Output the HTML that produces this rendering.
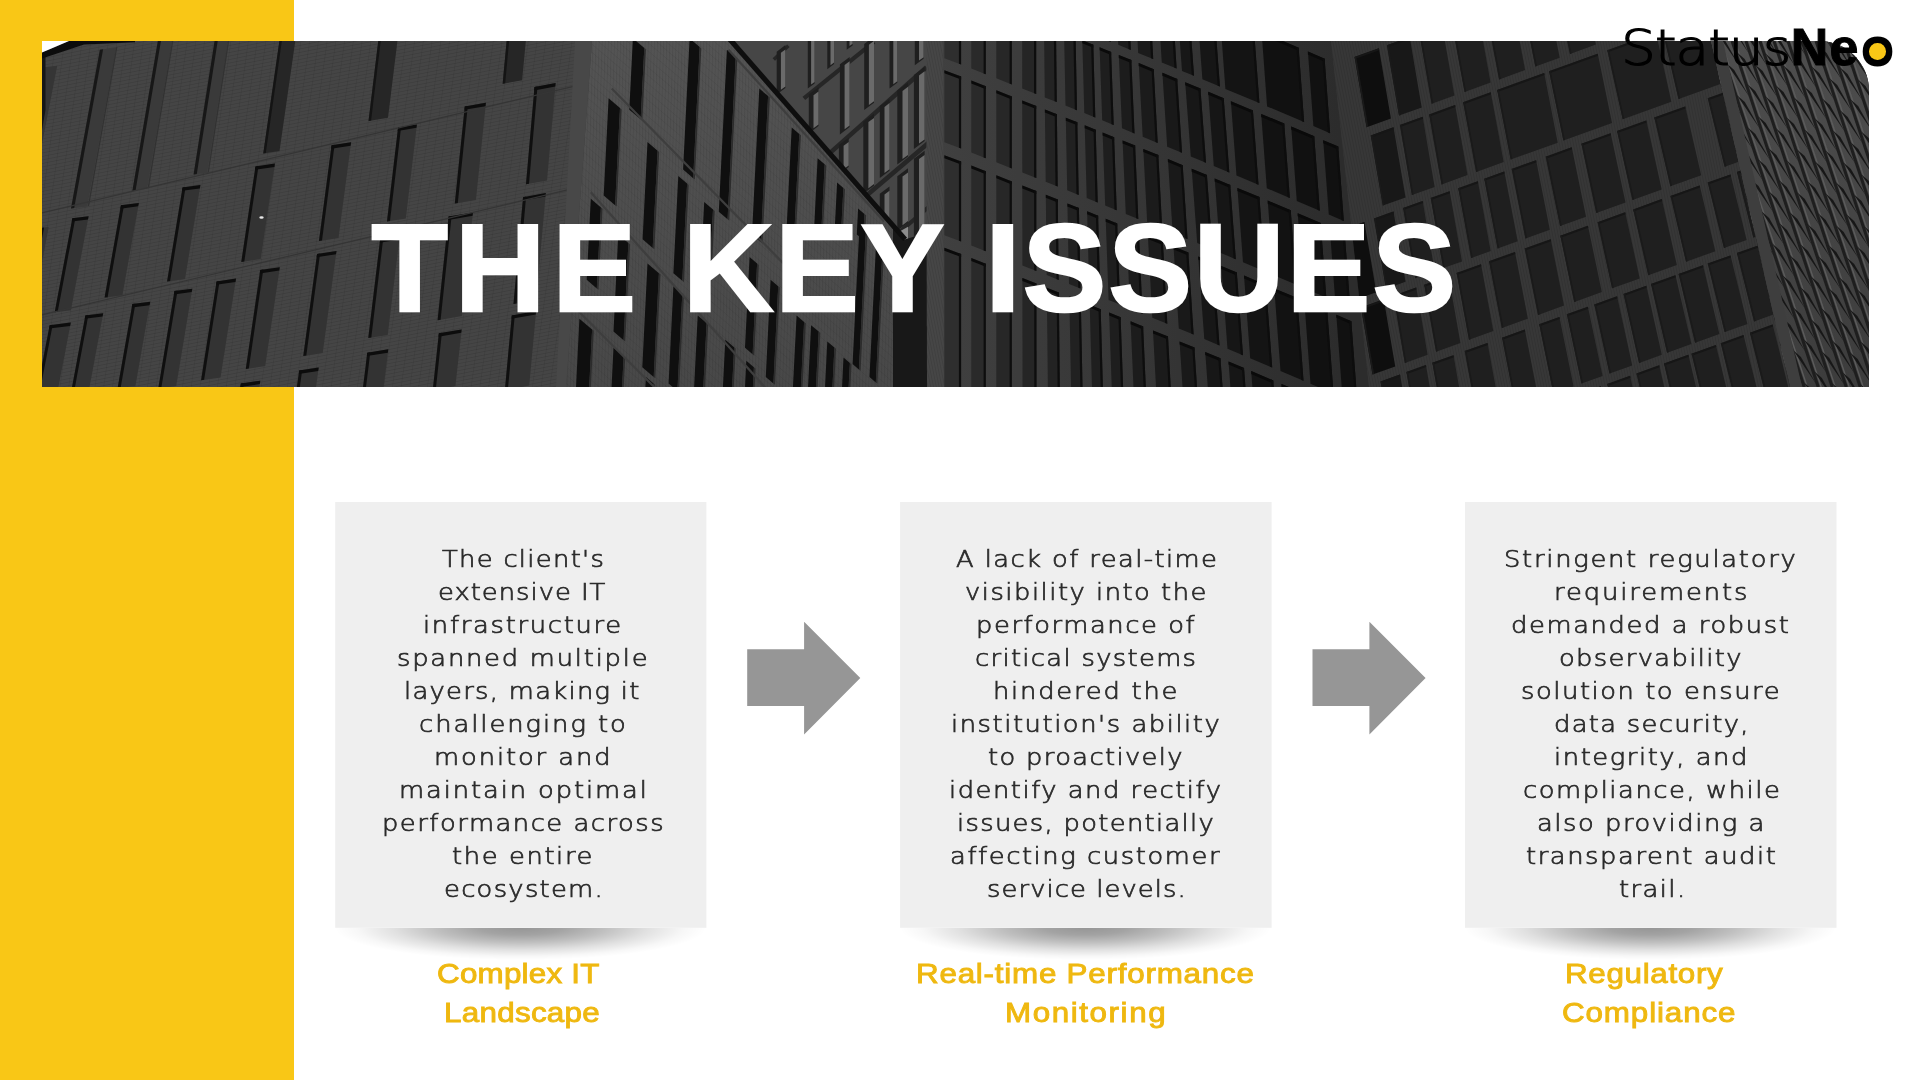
<!DOCTYPE html>
<html lang="en">
<head>
<meta charset="utf-8">
<title>The Key Issues</title>
<style>
html, body { margin: 0; padding: 0; }
body {
  width: 1920px; height: 1080px; overflow: hidden; position: relative;
  background: #ffffff;
  font-family: "Liberation Sans", sans-serif;
}
#sidebar { position: absolute; left: 0; top: 0; width: 294px; height: 1080px; background: #f9c716; }
#banner { position: absolute; left: 42px; top: 41px; width: 1827px; height: 346px; background: #3a3a3a; overflow: hidden; }
#banner svg { position: absolute; left: 0; top: 0; display: block; }
.tw {
  position: absolute; white-space: nowrap; color: #fff; font-weight: bold;
  font-size: 125px; line-height: 125px; transform-origin: 0 0; transform: scaleX(1.0);
  -webkit-text-stroke: 2.5px #fff;
}
.shadow { position: absolute; top: 928px; width: 371px; height: 32px; overflow: hidden; background: radial-gradient(ellipse 50% 100% at 50% 0%, rgba(0,0,0,0.41) 0%, rgba(0,0,0,0.36) 22%, rgba(0,0,0,0.25) 45%, rgba(0,0,0,0.12) 68%, rgba(0,0,0,0.03) 88%, rgba(0,0,0,0) 100%); }
.bl {
  position: absolute; white-space: nowrap; font-family: "DejaVu Sans", "Liberation Sans", sans-serif; font-weight: 200; font-size: 23px; line-height: 33px; color: #2b2b2b; -webkit-text-stroke: 0.7px #2b2b2b;
  transform-origin: 0 0; transform: scaleX(1.12);
}
.lb {
  position: absolute; white-space: nowrap; font-size: 28px; line-height: 39px; font-weight: normal; color: #efb810; -webkit-text-stroke: 0.9px #efb810;
  transform-origin: 0 0; transform: scaleX(1.12);
}

.lg { display: inline-block; width: 0; position: relative; vertical-align: baseline; overflow: visible; white-space: nowrap; line-height: 60px; color: #000; transform-origin: 0 0; }
.lg1 { font-family: "DejaVu Sans", "Liberation Sans", sans-serif; font-weight: 200; font-size: 49px; -webkit-text-stroke: 1.2px #000; transform: scaleX(1.12); }
.lg2 { font-weight: bold; font-size: 52px; -webkit-text-stroke: 1px #000; }
.lg3 { font-weight: bold; font-size: 50px; -webkit-text-stroke: 3px #000; }
.dot { position: absolute; left: 1869.3px; top: 43.3px; width: 16.6px; height: 16.6px; border-radius: 50%; background: #f9c716; }
#banner { border-top-right-radius: 50px; }

#bodytext, #labels, #title { position: absolute; left: 0; top: 0; width: 1920px; height: 1080px; will-change: transform; }
#logo { position: absolute; left: 0; top: 17px; width: 1920px; height: 60px; line-height: 60px; white-space: nowrap; font-size: 52px; will-change: transform; }

</style>
</head>
<body>
<div id="sidebar"></div>
<div id="banner">
<svg width="1827" height="346" viewBox="42 41 1827 346">
<defs><pattern id="brickA" width="9" height="3.6" patternUnits="userSpaceOnUse" patternTransform="matrix(1 -0.2 -0.14 1 0 0)"><rect width="9" height="3.6" fill="none"/><rect y="0" width="9" height="0.9" fill="#000" opacity="0.10"/><rect x="0" y="0" width="0.9" height="3.6" fill="#000" opacity="0.07"/></pattern><pattern id="brickB" width="3" height="8" patternUnits="userSpaceOnUse" patternTransform="matrix(1 0.85 -0.03 1 0 0)"><rect x="0" y="0" width="0.9" height="8" fill="#000" opacity="0.08"/><rect x="0" y="0" width="3" height="0.9" fill="#000" opacity="0.06"/></pattern><pattern id="brickD" width="2.6" height="7" patternUnits="userSpaceOnUse" patternTransform="matrix(1 -0.36 0.2 1 0 0)"><rect x="0" y="0" width="0.8" height="7" fill="#000" opacity="0.10"/></pattern></defs>
<rect x="42" y="41" width="1827" height="346" fill="#333333"/>
<polygon points="42.0,41.0 592.0,41.0 566.0,387.0 42.0,387.0" fill="#454545"/><polygon points="42.0,41.0 592.0,41.0 566.0,387.0 42.0,387.0" fill="url(#brickA)"/><polygon points="72.4,218.2 88.6,216.2 70.9,310.2 54.7,312.2" fill="#333333"/><polygon points="72.4,218.2 75.4,217.9 57.7,311.8 54.7,312.2" fill="#0f0f0f"/><polygon points="72.4,218.2 88.6,216.2 88.0,219.6 71.8,221.6" fill="#0c0c0c"/><polygon points="121.0,205.3 138.8,202.9 122.4,295.3 104.6,297.6" fill="#333333"/><polygon points="121.0,205.3 124.0,204.9 107.6,297.2 104.6,297.6" fill="#0f0f0f"/><polygon points="121.0,205.3 138.8,202.9 138.2,206.3 120.4,208.7" fill="#0c0c0c"/><polygon points="182.6,187.4 200.4,185.0 185.0,279.0 167.1,281.4" fill="#333333"/><polygon points="182.6,187.4 185.6,187.0 170.1,281.0 167.1,281.4" fill="#0f0f0f"/><polygon points="182.6,187.4 200.4,185.0 199.8,188.4 182.0,190.8" fill="#0c0c0c"/><polygon points="255.5,166.4 274.9,163.5 260.7,259.1 241.3,262.0" fill="#333333"/><polygon points="255.5,166.4 258.5,165.9 244.3,261.5 241.3,262.0" fill="#0f0f0f"/><polygon points="255.5,166.4 274.9,163.5 274.4,166.9 255.0,169.8" fill="#0c0c0c"/><polygon points="331.6,145.3 351.1,142.3 338.5,237.9 319.0,240.9" fill="#333333"/><polygon points="331.6,145.3 334.6,144.8 322.0,240.4 319.0,240.9" fill="#0f0f0f"/><polygon points="331.6,145.3 351.1,142.3 350.6,145.7 331.2,148.7" fill="#0c0c0c"/><polygon points="398.1,127.5 416.9,124.4 405.8,218.4 387.0,221.5" fill="#333333"/><polygon points="398.1,127.5 401.1,127.0 390.0,221.0 387.0,221.5" fill="#0f0f0f"/><polygon points="398.1,127.5 416.9,124.4 416.5,127.8 397.7,130.9" fill="#0c0c0c"/><polygon points="464.8,106.4 485.9,102.8 475.9,200.0 454.8,203.6" fill="#333333"/><polygon points="464.8,106.4 467.8,105.9 457.8,203.1 454.8,203.6" fill="#0f0f0f"/><polygon points="464.8,106.4 485.9,102.8 485.5,106.2 464.5,109.8" fill="#0c0c0c"/><polygon points="534.5,87.0 555.6,83.1 547.0,180.4 526.0,184.2" fill="#333333"/><polygon points="534.5,87.0 537.5,86.4 529.0,183.7 526.0,184.2" fill="#0f0f0f"/><polygon points="534.5,87.0 555.6,83.1 555.3,86.5 534.2,90.4" fill="#0c0c0c"/><polygon points="49.7,325.2 70.8,322.6 58.3,387.4 37.2,390.0" fill="#333333"/><polygon points="49.7,325.2 52.7,324.8 40.2,389.6 37.2,390.0" fill="#0f0f0f"/><polygon points="49.7,325.2 70.8,322.6 70.1,326.0 49.1,328.6" fill="#0c0c0c"/><polygon points="85.4,315.4 103.2,313.2 89.4,387.7 71.5,390.0" fill="#333333"/><polygon points="85.4,315.4 88.4,315.1 74.5,389.6 71.5,390.0" fill="#0f0f0f"/><polygon points="85.4,315.4 103.2,313.2 102.6,316.6 84.7,318.8" fill="#0c0c0c"/><polygon points="132.4,304.1 150.2,301.8 135.4,386.0 117.6,388.3" fill="#333333"/><polygon points="132.4,304.1 135.4,303.7 120.6,388.0 117.6,388.3" fill="#0f0f0f"/><polygon points="132.4,304.1 150.2,301.8 149.6,305.2 131.8,307.5" fill="#0c0c0c"/><polygon points="174.5,291.1 192.3,288.7 176.2,385.9 158.3,388.3" fill="#333333"/><polygon points="174.5,291.1 177.5,290.7 161.3,387.9 158.3,388.3" fill="#0f0f0f"/><polygon points="174.5,291.1 192.3,288.7 191.7,292.1 173.9,294.5" fill="#0c0c0c"/><polygon points="216.6,281.4 236.0,278.6 220.5,377.5 201.1,380.2" fill="#333333"/><polygon points="216.6,281.4 219.6,281.0 204.1,379.8 201.1,380.2" fill="#0f0f0f"/><polygon points="216.6,281.4 236.0,278.6 235.5,282.0 216.1,284.8" fill="#0c0c0c"/><polygon points="260.3,270.1 279.8,267.2 265.2,366.0 245.8,368.9" fill="#333333"/><polygon points="260.3,270.1 263.3,269.6 248.8,368.5 245.8,368.9" fill="#0f0f0f"/><polygon points="260.3,270.1 279.8,267.2 279.3,270.6 259.8,273.5" fill="#0c0c0c"/><polygon points="317.1,253.9 336.5,250.9 322.7,352.9 303.3,355.9" fill="#333333"/><polygon points="317.1,253.9 320.1,253.4 306.3,355.5 303.3,355.9" fill="#0f0f0f"/><polygon points="317.1,253.9 336.5,250.9 336.0,254.3 316.6,257.3" fill="#0c0c0c"/><polygon points="380.2,239.3 399.7,236.1 387.7,335.0 368.3,338.1" fill="#333333"/><polygon points="380.2,239.3 383.2,238.8 371.3,337.6 368.3,338.1" fill="#0f0f0f"/><polygon points="380.2,239.3 399.7,236.1 399.3,239.5 379.8,242.7" fill="#0c0c0c"/><polygon points="448.6,216.6 472.9,212.4 461.9,316.1 437.6,320.3" fill="#333333"/><polygon points="448.6,216.6 451.6,216.1 440.6,319.8 437.6,320.3" fill="#0f0f0f"/><polygon points="448.6,216.6 472.9,212.4 472.6,215.8 448.3,220.0" fill="#0c0c0c"/><polygon points="523.1,197.2 545.8,193.1 536.2,300.0 513.5,304.1" fill="#333333"/><polygon points="523.1,197.2 526.1,196.6 516.5,303.6 513.5,304.1" fill="#0f0f0f"/><polygon points="523.1,197.2 545.8,193.1 545.5,196.5 522.8,200.6" fill="#0c0c0c"/><polygon points="240.9,383.5 260.3,380.7 258.9,390.4 239.4,393.2" fill="#333333"/><polygon points="240.9,383.5 243.9,383.1 242.4,392.8 239.4,393.2" fill="#0f0f0f"/><polygon points="240.9,383.5 260.3,380.7 259.8,384.1 240.4,386.9" fill="#0c0c0c"/><polygon points="299.2,370.5 318.7,367.6 316.0,387.0 296.5,390.0" fill="#333333"/><polygon points="299.2,370.5 302.2,370.1 299.5,389.5 296.5,390.0" fill="#0f0f0f"/><polygon points="299.2,370.5 318.7,367.6 318.2,371.0 298.8,373.9" fill="#0c0c0c"/><polygon points="367.3,352.7 388.3,349.3 383.5,388.2 362.5,391.6" fill="#333333"/><polygon points="367.3,352.7 370.3,352.2 365.5,391.1 362.5,391.6" fill="#0f0f0f"/><polygon points="367.3,352.7 388.3,349.3 387.9,352.7 366.9,356.1" fill="#0c0c0c"/><polygon points="438.9,333.3 461.6,329.4 455.4,386.1 432.8,390.0" fill="#333333"/><polygon points="438.9,333.3 441.9,332.7 435.8,389.5 432.8,390.0" fill="#0f0f0f"/><polygon points="438.9,333.3 461.6,329.4 461.2,332.8 438.5,336.7" fill="#0c0c0c"/><polygon points="511.8,315.4 536.1,311.1 529.2,385.6 504.9,390.0" fill="#333333"/><polygon points="511.8,315.4 514.8,314.9 507.9,389.4 504.9,390.0" fill="#0f0f0f"/><polygon points="511.8,315.4 536.1,311.1 535.8,314.5 511.5,318.8" fill="#0c0c0c"/><polygon points="42.6,67.5 57.2,65.8 30.7,201.9 16.1,203.6" fill="#353535"/><polygon points="42.6,67.5 45.1,67.2 18.6,203.3 16.1,203.6" fill="#0f0f0f"/><polygon points="41.6,227.9 48.7,227.1 40.5,269.2 33.4,270.1" fill="#353535"/><polygon points="41.6,227.9 44.1,227.6 35.9,269.8 33.4,270.1" fill="#0f0f0f"/><polygon points="99.9,49.7 116.2,47.7 87.2,206.4 71.0,208.5" fill="#3a3a3a"/><polygon points="99.9,49.7 103.1,49.3 74.2,208.1 71.0,208.5" fill="#171717"/><polygon points="116.2,47.3 117.4,47.1 89.1,205.9 87.8,206.1" fill="#323232"/><polygon points="158.3,38.4 172.9,36.4 147.0,188.7 132.4,190.7" fill="#3a3a3a"/><polygon points="158.3,38.4 161.5,37.9 135.6,190.2 132.4,190.7" fill="#171717"/><polygon points="172.9,36.2 174.2,36.0 148.8,188.3 147.5,188.5" fill="#323232"/><polygon points="215.0,38.4 228.6,36.4 207.2,172.5 193.6,174.5" fill="#3a3a3a"/><polygon points="215.0,38.4 218.2,37.9 196.8,174.0 193.6,174.5" fill="#171717"/><polygon points="228.6,36.3 229.9,36.2 208.9,172.3 207.6,172.4" fill="#323232"/><polygon points="279.8,38.4 296.0,35.9 279.5,151.0 263.3,153.4" fill="#262626"/><polygon points="279.8,38.4 282.3,38.0 265.8,153.0 263.3,153.4" fill="#141414"/><polygon points="378.6,38.4 398.1,35.2 388.0,117.8 368.6,121.0" fill="#262626"/><polygon points="378.6,38.4 381.1,38.0 371.1,120.6 368.6,121.0" fill="#141414"/><polygon points="506.9,38.4 526.4,34.9 522.1,80.3 502.7,83.7" fill="#262626"/><polygon points="506.9,38.4 509.4,37.9 505.2,83.3 502.7,83.7" fill="#141414"/><line x1="40.0" y1="213.4" x2="580.0" y2="84.8" stroke="#353535" stroke-width="1.2"/><line x1="40.0" y1="315.4" x2="580.0" y2="186.9" stroke="#353535" stroke-width="1.2"/><ellipse cx="261.5" cy="217.5" rx="2.2" ry="1.3" fill="#e8e8e8"/><polygon points="42.0,50.0 45.5,50.0 45.5,110.0 42.0,130.0" fill="#161616"/><polygon points="42.0,52.5 69.0,41.0 135.0,41.0 135.0,42.2 84.0,44.5 42.0,58.5" fill="#0c0c0c"/><polygon points="42.0,41.0 69.0,41.0 42.0,52.5" fill="#ffffff"/>
<linearGradient id="gB" x1="0" y1="0" x2="0" y2="1"><stop offset="0" stop-color="#545454"/><stop offset="1" stop-color="#484848"/></linearGradient><polygon points="592.0,41.0 733.0,41.0 905.0,243.0 905.0,387.0 566.0,387.0" fill="url(#gB)"/><polygon points="592.0,41.0 733.0,41.0 905.0,243.0 905.0,387.0 566.0,387.0" fill="url(#brickB)"/><polygon points="575.0,41.0 592.0,41.0 566.0,387.0 556.0,387.0" fill="#484848"/><polygon points="632.9,38.4 644.3,48.0 640.7,119.3 629.3,109.7" fill="#0f0f0f"/><polygon points="644.3,48.0 645.9,49.4 642.3,120.7 640.7,119.3" fill="#2c2c2c"/><polygon points="689.6,38.4 699.7,47.0 693.2,178.2 683.1,169.6" fill="#0f0f0f"/><polygon points="699.7,47.0 701.3,48.4 694.8,179.6 693.2,178.2" fill="#2c2c2c"/><polygon points="726.9,49.7 735.7,57.2 727.6,219.3 718.8,211.7" fill="#0f0f0f"/><polygon points="735.7,57.2 737.3,58.6 729.2,220.6 727.6,219.3" fill="#2c2c2c"/><polygon points="759.3,88.6 768.1,96.1 760.8,241.9 752.0,234.4" fill="#0f0f0f"/><polygon points="768.1,96.1 769.8,97.5 762.5,243.3 760.8,241.9" fill="#2c2c2c"/><polygon points="791.7,127.5 799.3,133.9 794.4,231.2 786.8,224.7" fill="#0f0f0f"/><polygon points="799.3,133.9 800.9,135.3 796.0,232.5 794.4,231.2" fill="#2c2c2c"/><polygon points="817.6,158.3 824.7,164.3 821.1,235.6 814.1,229.6" fill="#0f0f0f"/><polygon points="824.7,164.3 826.3,165.7 822.7,237.0 821.1,235.6" fill="#2c2c2c"/><polygon points="837.1,182.6 843.4,188.0 840.9,236.6 834.6,231.2" fill="#0f0f0f"/><polygon points="843.4,188.0 845.0,189.3 842.6,237.9 840.9,236.6" fill="#2c2c2c"/><polygon points="858.1,208.5 864.4,213.9 863.1,239.8 856.8,234.4" fill="#0f0f0f"/><polygon points="864.4,213.9 866.1,215.3 864.8,241.2 863.1,239.8" fill="#2c2c2c"/><polygon points="608.6,98.3 620.0,108.0 615.1,205.2 603.7,195.5" fill="#0f0f0f"/><polygon points="620.0,108.0 621.6,109.4 616.7,206.6 615.1,205.2" fill="#2c2c2c"/><polygon points="647.5,142.1 657.6,150.7 652.7,247.9 642.6,239.3" fill="#0f0f0f"/><polygon points="657.6,150.7 659.2,152.0 654.4,249.3 652.7,247.9" fill="#2c2c2c"/><polygon points="678.3,176.1 687.1,183.6 682.3,280.8 673.4,273.3" fill="#0f0f0f"/><polygon points="687.1,183.6 688.7,185.0 683.9,282.2 682.3,280.8" fill="#2c2c2c"/><polygon points="704.2,202.0 713.0,209.5 708.8,293.8 700.0,286.3" fill="#0f0f0f"/><polygon points="713.0,209.5 714.7,210.9 710.5,295.2 708.8,293.8" fill="#2c2c2c"/><polygon points="590.8,198.8 600.9,207.4 596.8,288.4 586.7,279.8" fill="#0f0f0f"/><polygon points="600.9,207.4 602.5,208.8 598.5,289.8 596.8,288.4" fill="#2c2c2c"/><polygon points="618.3,234.4 628.4,243.0 623.6,340.2 613.5,331.6" fill="#0f0f0f"/><polygon points="628.4,243.0 630.1,244.4 625.2,341.6 623.6,340.2" fill="#2c2c2c"/><polygon points="647.5,263.6 658.9,273.3 653.7,377.0 642.3,367.3" fill="#0f0f0f"/><polygon points="658.9,273.3 660.5,274.6 655.3,378.3 653.7,377.0" fill="#2c2c2c"/><polygon points="673.4,286.3 682.3,293.8 677.4,391.0 668.6,383.5" fill="#0f0f0f"/><polygon points="682.3,293.8 683.9,295.2 679.0,392.4 677.4,391.0" fill="#2c2c2c"/><polygon points="697.7,315.4 706.6,323.0 702.8,397.5 694.0,390.0" fill="#0f0f0f"/><polygon points="706.6,323.0 708.2,324.3 704.5,398.9 702.8,397.5" fill="#2c2c2c"/><polygon points="725.3,339.7 734.1,347.3 731.6,397.5 722.8,390.0" fill="#0f0f0f"/><polygon points="734.1,347.3 735.7,348.6 733.2,398.9 731.6,397.5" fill="#2c2c2c"/><polygon points="746.3,360.8 753.9,367.2 752.4,396.4 744.9,390.0" fill="#0f0f0f"/><polygon points="753.9,367.2 755.5,368.6 754.1,397.8 752.4,396.4" fill="#2c2c2c"/><polygon points="579.4,318.7 592.1,329.4 588.5,400.7 575.9,390.0" fill="#0f0f0f"/><polygon points="592.1,329.4 593.7,330.8 590.1,402.1 588.5,400.7" fill="#2c2c2c"/><polygon points="613.5,347.8 623.6,356.4 621.5,398.6 611.4,390.0" fill="#0f0f0f"/><polygon points="623.6,356.4 625.2,357.8 623.1,399.9 621.5,398.6" fill="#2c2c2c"/><polygon points="645.9,377.0 653.5,383.5 652.8,396.4 645.2,390.0" fill="#0f0f0f"/><polygon points="653.5,383.5 655.1,384.8 654.4,397.8 652.8,396.4" fill="#2c2c2c"/><polygon points="749.6,257.1 757.1,263.6 752.6,354.3 745.0,347.8" fill="#0f0f0f"/><polygon points="757.1,263.6 758.8,264.9 754.2,355.7 752.6,354.3" fill="#2c2c2c"/><polygon points="770.6,279.8 778.2,286.2 773.4,383.5 765.8,377.0" fill="#0f0f0f"/><polygon points="778.2,286.2 779.8,287.6 775.0,384.8 773.4,383.5" fill="#2c2c2c"/><polygon points="796.6,315.4 804.1,321.9 800.4,396.4 792.8,390.0" fill="#0f0f0f"/><polygon points="804.1,321.9 805.8,323.3 802.0,397.8 800.4,396.4" fill="#2c2c2c"/><polygon points="811.1,325.2 818.7,331.6 815.5,396.4 807.9,390.0" fill="#0f0f0f"/><polygon points="818.7,331.6 820.3,333.0 817.1,397.8 815.5,396.4" fill="#2c2c2c"/><polygon points="827.3,341.4 834.4,347.4 832.0,396.0 824.9,390.0" fill="#0f0f0f"/><polygon points="834.4,347.4 836.0,348.8 833.6,397.4 832.0,396.0" fill="#2c2c2c"/><polygon points="843.5,357.6 849.9,362.9 848.2,395.3 841.9,390.0" fill="#0f0f0f"/><polygon points="849.9,362.9 851.5,364.3 849.9,396.7 848.2,395.3" fill="#2c2c2c"/><polygon points="859.7,221.5 866.1,226.8 858.9,369.4 852.6,364.0" fill="#0f0f0f"/><polygon points="866.1,226.8 867.7,228.2 860.6,370.8 858.9,369.4" fill="#2c2c2c"/><polygon points="875.9,247.4 882.3,252.8 875.8,382.4 869.5,377.0" fill="#0f0f0f"/><polygon points="882.3,252.8 883.9,254.1 877.4,383.8 875.8,382.4" fill="#2c2c2c"/><line x1="611.8" y1="88.6" x2="786.8" y2="266.8" stroke="#3e3e3e" stroke-width="2.2"/><line x1="590.8" y1="192.3" x2="767.4" y2="390.0" stroke="#3e3e3e" stroke-width="2.2"/><line x1="573.0" y1="305.7" x2="657.2" y2="390.0" stroke="#3e3e3e" stroke-width="2.2"/><line x1="728.5" y1="49.7" x2="884.0" y2="221.5" stroke="#3e3e3e" stroke-width="2.2"/>
<clipPath id="clipH"><polygon points="733,41 932,41 932,387 905,387 905,243"/></clipPath><g clip-path="url(#clipH)"><polygon points="733.0,41.0 932.0,41.0 932.0,387.0 905.0,387.0 905.0,243.0" fill="#464646"/><line x1="803.9" y1="98.4" x2="874.0" y2="41.9" stroke="#262626" stroke-width="4.2"/><line x1="831.2" y1="151.9" x2="926.5" y2="67.2" stroke="#262626" stroke-width="4.6"/><line x1="864.2" y1="197.6" x2="928.4" y2="143.1" stroke="#262626" stroke-width="4.6"/><line x1="773.8" y1="59.5" x2="788.4" y2="45.8" stroke="#262626" stroke-width="3.5"/><line x1="894.4" y1="236.5" x2="928.4" y2="207.3" stroke="#262626" stroke-width="4.0"/><polygon points="776.7,51.7 785.4,45.1 785.4,87.9 776.7,94.5" fill="#1f1f1f"/><polygon points="780.9,52.8 785.4,49.4 785.4,86.4 780.9,89.8" fill="#6a6a6a"/><polygon points="807.8,38.1 814.6,32.9 814.6,83.5 807.8,88.6" fill="#1f1f1f"/><polygon points="811.1,39.9 814.6,37.2 814.6,82.0 811.1,84.6" fill="#6a6a6a"/><polygon points="827.3,38.1 834.1,32.9 834.1,64.1 827.3,69.2" fill="#1f1f1f"/><polygon points="830.5,39.9 834.1,37.2 834.1,62.5 830.5,65.2" fill="#6a6a6a"/><polygon points="846.7,38.1 852.6,33.7 852.6,45.4 846.7,49.7" fill="#1f1f1f"/><polygon points="849.5,40.2 852.6,38.0 852.6,43.8 849.5,46.1" fill="#6a6a6a"/><polygon points="839.9,64.3 849.6,57.0 849.6,127.1 839.9,134.4" fill="#1f1f1f"/><polygon points="844.6,65.1 849.6,61.3 849.6,125.5 844.6,129.3" fill="#6a6a6a"/><polygon points="864.2,43.9 874.0,36.6 874.0,102.7 864.2,110.0" fill="#1f1f1f"/><polygon points="868.9,44.7 874.0,40.9 874.0,101.2 868.9,105.0" fill="#6a6a6a"/><polygon points="889.5,38.1 897.3,32.2 897.3,82.8 889.5,88.6" fill="#1f1f1f"/><polygon points="893.3,39.5 897.3,36.5 897.3,81.2 893.3,84.3" fill="#6a6a6a"/><polygon points="914.8,38.1 923.6,31.5 923.6,58.7 914.8,65.3" fill="#1f1f1f"/><polygon points="919.0,39.2 923.6,35.8 923.6,57.2 919.0,60.6" fill="#6a6a6a"/><polygon points="808.8,94.5 818.5,87.2 818.5,126.1 808.8,133.4" fill="#1f1f1f"/><polygon points="813.5,95.3 818.5,91.5 818.5,124.5 813.5,128.3" fill="#6a6a6a"/><polygon points="838.9,145.1 848.7,137.8 848.7,166.9 838.9,174.2" fill="#1f1f1f"/><polygon points="843.6,145.8 848.7,142.0 848.7,165.4 843.6,169.2" fill="#6a6a6a"/><polygon points="863.3,121.7 874.0,113.7 874.0,185.7 863.3,193.7" fill="#1f1f1f"/><polygon points="868.4,122.1 874.0,118.0 874.0,184.1 868.4,188.3" fill="#6a6a6a"/><polygon points="879.8,106.1 889.5,98.9 889.5,170.8 879.8,178.1" fill="#1f1f1f"/><polygon points="884.5,106.9 889.5,103.1 889.5,169.3 884.5,173.1" fill="#6a6a6a"/><polygon points="897.3,90.6 908.0,82.6 908.0,156.5 897.3,164.5" fill="#1f1f1f"/><polygon points="902.5,91.0 908.0,86.8 908.0,154.9 902.5,159.1" fill="#6a6a6a"/><polygon points="913.9,75.0 924.6,67.0 924.6,140.9 913.9,148.9" fill="#1f1f1f"/><polygon points="919.0,75.4 924.6,71.3 924.6,139.4 919.0,143.5" fill="#6a6a6a"/><polygon points="879.8,193.7 889.5,186.4 889.5,225.3 879.8,232.6" fill="#1f1f1f"/><polygon points="884.5,194.5 889.5,190.7 889.5,223.8 884.5,227.5" fill="#6a6a6a"/><polygon points="897.3,176.2 908.0,168.2 908.0,222.6 897.3,230.7" fill="#1f1f1f"/><polygon points="902.5,176.6 908.0,172.4 908.0,221.1 902.5,225.3" fill="#6a6a6a"/><polygon points="913.9,158.7 924.6,150.7 924.6,228.5 913.9,236.5" fill="#1f1f1f"/><polygon points="919.0,159.1 924.6,154.9 924.6,226.9 919.0,231.1" fill="#6a6a6a"/><polygon points="899.6,231.6 908.0,226.8 908.0,240.4 901.2,241.4" fill="#8c8c8c"/></g><polygon points="893.0,228.0 903.0,240.0 929.0,232.0 929.0,387.0 893.0,387.0" fill="#181818"/><line x1="726.1" y1="35.1" x2="905.1" y2="239.4" stroke="#0e0e0e" stroke-width="5.2"/><polygon points="926.5,41.0 943.0,41.0 944.0,387.0 927.0,387.0" fill="#464646"/>
<clipPath id="clipC"><polygon points="938,41 1331,41 1369,387 938,387"/></clipPath><g clip-path="url(#clipC)"><linearGradient id="gC" x1="938" y1="0" x2="1340" y2="0" gradientUnits="userSpaceOnUse"><stop offset="0" stop-color="#404040"/><stop offset="0.5" stop-color="#363636"/><stop offset="1" stop-color="#2c2c2c"/></linearGradient><polygon points="938.0,41.0 1372.0,41.0 1372.0,387.0 938.0,387.0" fill="url(#gC)"/><polygon points="944.4,-95.8 961.1,-89.4 961.1,-17.4 944.4,-23.8" fill="#2e2e2e"/><polygon points="944.4,-95.8 961.1,-89.4 961.1,-86.4 944.4,-92.8" fill="#0a0a0a"/><polygon points="958.9,-90.2 961.1,-89.4 961.1,-17.4 958.9,-18.2" fill="#0d0d0d"/><polygon points="971.3,-85.4 985.8,-79.8 985.8,-7.8 971.3,-13.4" fill="#2a2a2a"/><polygon points="971.3,-85.4 985.8,-79.8 985.8,-76.8 971.3,-82.4" fill="#0a0a0a"/><polygon points="983.6,-80.6 985.8,-79.8 985.8,-7.8 983.6,-8.6" fill="#0d0d0d"/><polygon points="996.3,-75.7 1011.8,-69.6 1011.8,2.4 996.3,-3.7" fill="#272727"/><polygon points="996.3,-75.7 1011.8,-69.6 1011.8,-66.6 996.3,-72.7" fill="#0a0a0a"/><polygon points="1009.6,-70.4 1011.8,-69.6 1011.8,2.4 1009.6,1.6" fill="#0d0d0d"/><polygon points="1022.1,-65.6 1036.1,-60.1 1036.2,12.0 1022.2,6.4" fill="#252525"/><polygon points="1022.1,-65.6 1036.1,-60.1 1036.1,-57.1 1022.1,-62.6" fill="#0a0a0a"/><polygon points="1033.9,-60.9 1036.1,-60.1 1036.2,12.0 1034.0,11.2" fill="#0d0d0d"/><polygon points="1043.1,-57.3 1055.1,-52.5 1055.9,19.8 1043.9,15.0" fill="#232323"/><polygon points="1043.1,-57.3 1055.1,-52.5 1055.1,-49.5 1043.1,-54.3" fill="#0a0a0a"/><polygon points="1052.9,-53.3 1055.1,-52.5 1055.9,19.8 1053.7,19.0" fill="#0d0d0d"/><polygon points="1062.4,-49.6 1073.9,-45.0 1075.4,27.6 1063.9,23.0" fill="#212121"/><polygon points="1062.4,-49.6 1073.9,-45.0 1073.9,-42.0 1062.4,-46.6" fill="#0a0a0a"/><polygon points="1071.7,-45.8 1073.9,-45.0 1075.4,27.6 1073.2,26.8" fill="#0d0d0d"/><polygon points="1080.0,-42.6 1091.0,-38.2 1093.0,34.6 1082.0,30.2" fill="#1f1f1f"/><polygon points="1080.0,-42.6 1091.0,-38.2 1091.0,-35.2 1080.0,-39.6" fill="#0a0a0a"/><polygon points="1088.8,-39.0 1091.0,-38.2 1093.0,34.6 1090.8,33.8" fill="#0d0d0d"/><polygon points="1096.6,-35.9 1108.1,-31.3 1110.7,41.8 1099.2,37.1" fill="#1e1e1e"/><polygon points="1096.6,-35.9 1108.1,-31.3 1108.1,-28.3 1096.6,-32.9" fill="#0a0a0a"/><polygon points="1105.9,-32.1 1108.1,-31.3 1110.7,41.8 1108.5,41.0" fill="#0d0d0d"/><polygon points="1115.1,-28.5 1127.6,-23.4 1130.8,49.9 1118.3,44.8" fill="#1c1c1c"/><polygon points="1115.1,-28.5 1127.6,-23.4 1127.6,-20.4 1115.1,-25.5" fill="#0a0a0a"/><polygon points="1125.4,-24.2 1127.6,-23.4 1130.8,49.9 1128.6,49.1" fill="#0d0d0d"/><polygon points="1134.3,-20.7 1149.3,-14.6 1153.2,59.0 1138.2,52.9" fill="#1b1b1b"/><polygon points="1134.3,-20.7 1149.3,-14.6 1149.3,-11.6 1134.3,-17.7" fill="#0a0a0a"/><polygon points="1147.1,-15.4 1149.3,-14.6 1153.2,59.0 1151.0,58.2" fill="#0d0d0d"/><polygon points="1157.1,-11.4 1171.9,-5.3 1176.6,68.6 1161.8,62.6" fill="#191919"/><polygon points="1157.1,-11.4 1171.9,-5.3 1171.9,-2.3 1157.1,-8.4" fill="#0a0a0a"/><polygon points="1169.7,-6.1 1171.9,-5.3 1176.6,68.6 1174.4,67.8" fill="#0d0d0d"/><polygon points="1176.6,-3.4 1188.6,1.6 1194.0,75.8 1182.0,70.9" fill="#171717"/><polygon points="1176.6,-3.4 1188.6,1.6 1188.6,4.6 1176.6,-0.4" fill="#0a0a0a"/><polygon points="1186.4,0.8 1188.6,1.6 1194.0,75.8 1191.8,75.0" fill="#0d0d0d"/><polygon points="1196.9,5.0 1214.4,12.3 1219.9,86.6 1202.4,79.3" fill="#161616"/><polygon points="1196.9,5.0 1214.4,12.3 1214.4,15.3 1196.9,8.0" fill="#0a0a0a"/><polygon points="1212.2,11.5 1214.4,12.3 1219.9,86.6 1217.7,85.8" fill="#0d0d0d"/><polygon points="1219.9,14.5 1253.9,28.8 1259.4,103.1 1225.4,88.9" fill="#141414"/><polygon points="1219.9,14.5 1253.9,28.8 1253.9,31.8 1219.9,17.5" fill="#0a0a0a"/><polygon points="1251.7,28.0 1253.9,28.8 1259.4,103.1 1257.2,102.3" fill="#0d0d0d"/><polygon points="1261.6,32.0 1298.6,47.7 1304.1,122.0 1267.1,106.4" fill="#111111"/><polygon points="1261.6,32.0 1298.6,47.7 1298.6,50.7 1261.6,35.0" fill="#0a0a0a"/><polygon points="1296.4,46.9 1298.6,47.7 1304.1,122.0 1301.9,121.2" fill="#0d0d0d"/><polygon points="1307.9,51.6 1324.6,58.8 1330.1,133.2 1313.4,126.0" fill="#111111"/><polygon points="1307.9,51.6 1324.6,58.8 1324.6,61.8 1307.9,54.6" fill="#0a0a0a"/><polygon points="1322.4,58.0 1324.6,58.8 1330.1,133.2 1327.9,132.4" fill="#0d0d0d"/><polygon points="944.4,-13.8 961.1,-7.4 961.1,64.6 944.4,58.2" fill="#2e2e2e"/><polygon points="944.4,-13.8 961.1,-7.4 961.1,-4.4 944.4,-10.8" fill="#0a0a0a"/><polygon points="958.9,-8.2 961.1,-7.4 961.1,64.6 958.9,63.8" fill="#0d0d0d"/><polygon points="971.3,-3.4 985.8,2.2 985.8,74.2 971.3,68.6" fill="#2a2a2a"/><polygon points="971.3,-3.4 985.8,2.2 985.8,5.2 971.3,-0.4" fill="#0a0a0a"/><polygon points="983.6,1.4 985.8,2.2 985.8,74.2 983.6,73.4" fill="#0d0d0d"/><polygon points="996.3,6.3 1011.8,12.4 1011.8,84.4 996.3,78.3" fill="#272727"/><polygon points="996.3,6.3 1011.8,12.4 1011.8,15.4 996.3,9.3" fill="#0a0a0a"/><polygon points="1009.6,11.6 1011.8,12.4 1011.8,84.4 1009.6,83.6" fill="#0d0d0d"/><polygon points="1022.2,16.4 1036.2,22.0 1036.2,94.0 1022.2,88.5" fill="#252525"/><polygon points="1022.2,16.4 1036.2,22.0 1036.2,25.0 1022.2,19.4" fill="#0a0a0a"/><polygon points="1034.0,21.2 1036.2,22.0 1036.2,94.0 1034.0,93.2" fill="#0d0d0d"/><polygon points="1044.0,25.1 1056.0,29.8 1056.8,102.1 1044.8,97.4" fill="#232323"/><polygon points="1044.0,25.1 1056.0,29.8 1056.0,32.8 1044.0,28.1" fill="#0a0a0a"/><polygon points="1053.8,29.0 1056.0,29.8 1056.8,102.1 1054.6,101.3" fill="#0d0d0d"/><polygon points="1064.1,33.1 1075.6,37.6 1077.0,110.2 1065.5,105.6" fill="#212121"/><polygon points="1064.1,33.1 1075.6,37.6 1075.6,40.6 1064.1,36.1" fill="#0a0a0a"/><polygon points="1073.4,36.8 1075.6,37.6 1077.0,110.2 1074.8,109.4" fill="#0d0d0d"/><polygon points="1082.3,40.3 1093.3,44.7 1095.3,117.6 1084.3,113.1" fill="#1f1f1f"/><polygon points="1082.3,40.3 1093.3,44.7 1093.3,47.7 1082.3,43.3" fill="#0a0a0a"/><polygon points="1091.1,43.9 1093.3,44.7 1095.3,117.6 1093.1,116.8" fill="#0d0d0d"/><polygon points="1099.6,47.3 1111.1,51.9 1113.7,125.0 1102.2,120.3" fill="#1e1e1e"/><polygon points="1099.6,47.3 1111.1,51.9 1111.1,54.9 1099.6,50.3" fill="#0a0a0a"/><polygon points="1108.9,51.1 1111.1,51.9 1113.7,125.0 1111.5,124.2" fill="#0d0d0d"/><polygon points="1118.8,55.0 1131.3,60.1 1134.5,133.4 1122.0,128.3" fill="#1c1c1c"/><polygon points="1118.8,55.0 1131.3,60.1 1131.3,63.1 1118.8,58.0" fill="#0a0a0a"/><polygon points="1129.1,59.3 1131.3,60.1 1134.5,133.4 1132.3,132.6" fill="#0d0d0d"/><polygon points="1138.7,63.1 1153.7,69.3 1157.7,142.9 1142.7,136.7" fill="#1b1b1b"/><polygon points="1138.7,63.1 1153.7,69.3 1153.7,72.3 1138.7,66.1" fill="#0a0a0a"/><polygon points="1151.5,68.5 1153.7,69.3 1157.7,142.9 1155.5,142.1" fill="#0d0d0d"/><polygon points="1162.4,72.8 1177.2,78.9 1182.0,152.8 1167.2,146.8" fill="#191919"/><polygon points="1162.4,72.8 1177.2,78.9 1177.2,81.9 1162.4,75.8" fill="#0a0a0a"/><polygon points="1175.0,78.1 1177.2,78.9 1182.0,152.8 1179.8,152.0" fill="#0d0d0d"/><polygon points="1185.2,82.2 1200.4,88.5 1206.0,162.8 1190.8,156.5" fill="#171717"/><polygon points="1185.2,82.2 1200.4,88.5 1200.4,91.5 1185.2,85.2" fill="#0a0a0a"/><polygon points="1198.2,87.7 1200.4,88.5 1206.0,162.8 1203.8,162.0" fill="#0d0d0d"/><polygon points="1208.2,91.7 1223.7,98.2 1229.3,172.5 1213.8,166.0" fill="#161616"/><polygon points="1208.2,91.7 1223.7,98.2 1223.7,101.2 1208.2,94.7" fill="#0a0a0a"/><polygon points="1221.5,97.4 1223.7,98.2 1229.3,172.5 1227.1,171.7" fill="#0d0d0d"/><polygon points="1230.9,101.2 1252.9,110.4 1258.5,184.7 1236.5,175.5" fill="#141414"/><polygon points="1230.9,101.2 1252.9,110.4 1252.9,113.4 1230.9,104.2" fill="#0a0a0a"/><polygon points="1250.7,109.6 1252.9,110.4 1258.5,184.7 1256.3,183.9" fill="#0d0d0d"/><polygon points="1261.2,113.9 1284.2,123.6 1289.8,197.9 1266.8,188.2" fill="#121212"/><polygon points="1261.2,113.9 1284.2,123.6 1284.2,126.6 1261.2,116.9" fill="#0a0a0a"/><polygon points="1282.0,122.8 1284.2,123.6 1289.8,197.9 1287.6,197.1" fill="#0d0d0d"/><polygon points="1291.2,126.5 1314.2,136.3 1319.8,210.7 1296.8,200.9" fill="#111111"/><polygon points="1291.2,126.5 1314.2,136.3 1314.2,139.3 1291.2,129.5" fill="#0a0a0a"/><polygon points="1312.0,135.5 1314.2,136.3 1319.8,210.7 1317.6,209.9" fill="#0d0d0d"/><polygon points="1323.2,140.2 1338.2,146.6 1343.8,221.0 1328.8,214.6" fill="#111111"/><polygon points="1323.2,140.2 1338.2,146.6 1338.2,149.6 1323.2,143.2" fill="#0a0a0a"/><polygon points="1336.0,145.8 1338.2,146.6 1343.8,221.0 1341.6,220.2" fill="#0d0d0d"/><polygon points="944.4,70.2 961.1,76.6 961.1,148.6 944.4,142.2" fill="#2e2e2e"/><polygon points="944.4,70.2 961.1,76.6 961.1,79.6 944.4,73.2" fill="#0a0a0a"/><polygon points="958.9,75.8 961.1,76.6 961.1,148.6 958.9,147.8" fill="#0d0d0d"/><polygon points="971.3,80.6 985.8,86.2 985.8,158.2 971.3,152.6" fill="#2a2a2a"/><polygon points="971.3,80.6 985.8,86.2 985.8,89.2 971.3,83.6" fill="#0a0a0a"/><polygon points="983.6,85.4 985.8,86.2 985.8,158.2 983.6,157.4" fill="#0d0d0d"/><polygon points="996.3,90.3 1011.8,96.4 1011.8,168.4 996.3,162.3" fill="#272727"/><polygon points="996.3,90.3 1011.8,96.4 1011.8,99.4 996.3,93.3" fill="#0a0a0a"/><polygon points="1009.6,95.6 1011.8,96.4 1011.8,168.4 1009.6,167.6" fill="#0d0d0d"/><polygon points="1022.2,100.5 1036.2,106.0 1036.3,178.0 1022.3,172.5" fill="#252525"/><polygon points="1022.2,100.5 1036.2,106.0 1036.2,109.0 1022.2,103.5" fill="#0a0a0a"/><polygon points="1034.0,105.2 1036.2,106.0 1036.3,178.0 1034.1,177.2" fill="#0d0d0d"/><polygon points="1044.9,109.4 1056.9,114.2 1057.7,186.5 1045.7,181.7" fill="#232323"/><polygon points="1044.9,109.4 1056.9,114.2 1056.9,117.2 1044.9,112.4" fill="#0a0a0a"/><polygon points="1054.7,113.4 1056.9,114.2 1057.7,186.5 1055.5,185.7" fill="#0d0d0d"/><polygon points="1065.8,117.7 1077.3,122.3 1078.7,194.9 1067.2,190.3" fill="#212121"/><polygon points="1065.8,117.7 1077.3,122.3 1077.3,125.3 1065.8,120.7" fill="#0a0a0a"/><polygon points="1075.1,121.5 1077.3,122.3 1078.7,194.9 1076.5,194.1" fill="#0d0d0d"/><polygon points="1084.7,125.3 1095.7,129.7 1097.7,202.5 1086.7,198.1" fill="#1f1f1f"/><polygon points="1084.7,125.3 1095.7,129.7 1095.7,132.7 1084.7,128.3" fill="#0a0a0a"/><polygon points="1093.5,128.9 1095.7,129.7 1097.7,202.5 1095.5,201.7" fill="#0d0d0d"/><polygon points="1102.6,132.5 1114.1,137.2 1116.7,210.2 1105.2,205.6" fill="#1e1e1e"/><polygon points="1102.6,132.5 1114.1,137.2 1114.1,140.2 1102.6,135.5" fill="#0a0a0a"/><polygon points="1111.9,136.4 1114.1,137.2 1116.7,210.2 1114.5,209.4" fill="#0d0d0d"/><polygon points="1122.6,140.6 1135.1,145.6 1138.3,219.0 1125.8,213.9" fill="#1c1c1c"/><polygon points="1122.6,140.6 1135.1,145.6 1135.1,148.6 1122.6,143.6" fill="#0a0a0a"/><polygon points="1132.9,144.8 1135.1,145.6 1138.3,219.0 1136.1,218.2" fill="#0d0d0d"/><polygon points="1143.3,149.0 1158.3,155.1 1162.2,228.7 1147.2,222.6" fill="#1b1b1b"/><polygon points="1143.3,149.0 1158.3,155.1 1158.3,158.1 1143.3,152.0" fill="#0a0a0a"/><polygon points="1156.1,154.3 1158.3,155.1 1162.2,228.7 1160.0,227.9" fill="#0d0d0d"/><polygon points="1167.9,159.1 1182.7,165.2 1187.5,239.1 1172.7,233.0" fill="#191919"/><polygon points="1167.9,159.1 1182.7,165.2 1182.7,168.2 1167.9,162.1" fill="#0a0a0a"/><polygon points="1180.5,164.4 1182.7,165.2 1187.5,239.1 1185.3,238.3" fill="#0d0d0d"/><polygon points="1191.7,168.8 1206.9,175.1 1212.4,249.4 1197.2,243.1" fill="#171717"/><polygon points="1191.7,168.8 1206.9,175.1 1206.9,178.1 1191.7,171.8" fill="#0a0a0a"/><polygon points="1204.7,174.3 1206.9,175.1 1212.4,249.4 1210.2,248.6" fill="#0d0d0d"/><polygon points="1214.7,178.4 1230.2,184.9 1235.8,259.2 1220.3,252.7" fill="#161616"/><polygon points="1214.7,178.4 1230.2,184.9 1230.2,187.9 1214.7,181.4" fill="#0a0a0a"/><polygon points="1228.0,184.1 1230.2,184.9 1235.8,259.2 1233.6,258.4" fill="#0d0d0d"/><polygon points="1237.4,187.9 1259.4,197.1 1265.0,271.5 1243.0,262.2" fill="#141414"/><polygon points="1237.4,187.9 1259.4,197.1 1259.4,200.1 1237.4,190.9" fill="#0a0a0a"/><polygon points="1257.2,196.3 1259.4,197.1 1265.0,271.5 1262.8,270.7" fill="#0d0d0d"/><polygon points="1267.7,200.6 1290.7,210.3 1296.3,284.7 1273.3,275.0" fill="#121212"/><polygon points="1267.7,200.6 1290.7,210.3 1290.7,213.3 1267.7,203.6" fill="#0a0a0a"/><polygon points="1288.5,209.5 1290.7,210.3 1296.3,284.7 1294.1,283.9" fill="#0d0d0d"/><polygon points="1297.7,213.3 1320.7,223.1 1326.3,297.5 1303.3,287.7" fill="#111111"/><polygon points="1297.7,213.3 1320.7,223.1 1320.7,226.1 1297.7,216.3" fill="#0a0a0a"/><polygon points="1318.5,222.3 1320.7,223.1 1326.3,297.5 1324.1,296.7" fill="#0d0d0d"/><polygon points="1329.7,227.0 1344.7,233.4 1350.3,307.8 1335.3,301.4" fill="#111111"/><polygon points="1329.7,227.0 1344.7,233.4 1344.7,236.4 1329.7,230.0" fill="#0a0a0a"/><polygon points="1342.5,232.6 1344.7,233.4 1350.3,307.8 1348.1,307.0" fill="#0d0d0d"/><polygon points="944.4,155.2 961.1,161.6 961.1,241.6 944.4,235.2" fill="#2e2e2e"/><polygon points="944.4,155.2 961.1,161.6 961.1,164.6 944.4,158.2" fill="#0a0a0a"/><polygon points="958.9,160.8 961.1,161.6 961.1,241.6 958.9,240.8" fill="#0d0d0d"/><polygon points="971.3,165.6 985.8,171.2 985.8,251.2 971.3,245.6" fill="#2a2a2a"/><polygon points="971.3,165.6 985.8,171.2 985.8,174.2 971.3,168.6" fill="#0a0a0a"/><polygon points="983.6,170.4 985.8,171.2 985.8,251.2 983.6,250.4" fill="#0d0d0d"/><polygon points="996.3,175.3 1011.8,181.4 1011.8,261.4 996.3,255.3" fill="#272727"/><polygon points="996.3,175.3 1011.8,181.4 1011.8,184.4 996.3,178.3" fill="#0a0a0a"/><polygon points="1009.6,180.6 1011.8,181.4 1011.8,261.4 1009.6,260.6" fill="#0d0d0d"/><polygon points="1022.3,185.5 1036.3,191.0 1036.4,271.1 1022.4,265.5" fill="#252525"/><polygon points="1022.3,185.5 1036.3,191.0 1036.3,194.0 1022.3,188.5" fill="#0a0a0a"/><polygon points="1034.1,190.2 1036.3,191.0 1036.4,271.1 1034.2,270.3" fill="#0d0d0d"/><polygon points="1045.8,194.8 1057.8,199.6 1058.7,279.9 1046.7,275.1" fill="#232323"/><polygon points="1045.8,194.8 1057.8,199.6 1057.8,202.6 1045.8,197.8" fill="#0a0a0a"/><polygon points="1055.6,198.8 1057.8,199.6 1058.7,279.9 1056.5,279.1" fill="#0d0d0d"/><polygon points="1067.4,203.4 1078.9,208.0 1080.5,288.6 1069.0,284.0" fill="#212121"/><polygon points="1067.4,203.4 1078.9,208.0 1078.9,211.0 1067.4,206.4" fill="#0a0a0a"/><polygon points="1076.7,207.2 1078.9,208.0 1080.5,288.6 1078.3,287.8" fill="#0d0d0d"/><polygon points="1087.1,211.2 1098.1,215.7 1100.3,296.6 1089.3,292.1" fill="#1f1f1f"/><polygon points="1087.1,211.2 1098.1,215.7 1098.1,218.7 1087.1,214.2" fill="#0a0a0a"/><polygon points="1095.9,214.9 1098.1,215.7 1100.3,296.6 1098.1,295.8" fill="#0d0d0d"/><polygon points="1105.7,218.8 1117.2,223.4 1120.1,304.6 1108.6,299.9" fill="#1e1e1e"/><polygon points="1105.7,218.8 1117.2,223.4 1117.2,226.4 1105.7,221.8" fill="#0a0a0a"/><polygon points="1115.0,222.6 1117.2,223.4 1120.1,304.6 1117.9,303.8" fill="#0d0d0d"/><polygon points="1126.4,227.1 1138.9,232.2 1142.5,313.7 1130.0,308.6" fill="#1c1c1c"/><polygon points="1126.4,227.1 1138.9,232.2 1138.9,235.2 1126.4,230.1" fill="#0a0a0a"/><polygon points="1136.7,231.4 1138.9,232.2 1142.5,313.7 1140.3,312.9" fill="#0d0d0d"/><polygon points="1147.9,235.9 1162.9,242.0 1167.3,323.8 1152.3,317.7" fill="#1b1b1b"/><polygon points="1147.9,235.9 1162.9,242.0 1162.9,245.0 1147.9,238.9" fill="#0a0a0a"/><polygon points="1160.7,241.2 1162.9,242.0 1167.3,323.8 1165.1,323.0" fill="#0d0d0d"/><polygon points="1173.5,246.4 1188.3,252.5 1193.6,334.6 1178.8,328.5" fill="#191919"/><polygon points="1173.5,246.4 1188.3,252.5 1188.3,255.5 1173.5,249.4" fill="#0a0a0a"/><polygon points="1186.1,251.7 1188.3,252.5 1193.6,334.6 1191.4,333.8" fill="#0d0d0d"/><polygon points="1198.2,256.5 1213.4,262.8 1219.5,345.4 1204.3,339.1" fill="#171717"/><polygon points="1198.2,256.5 1213.4,262.8 1213.4,265.8 1198.2,259.5" fill="#0a0a0a"/><polygon points="1211.2,262.0 1213.4,262.8 1219.5,345.4 1217.3,344.6" fill="#0d0d0d"/><polygon points="1221.3,266.1 1236.8,272.6 1243.0,355.2 1227.5,348.7" fill="#161616"/><polygon points="1221.3,266.1 1236.8,272.6 1236.8,275.6 1221.3,269.1" fill="#0a0a0a"/><polygon points="1234.6,271.8 1236.8,272.6 1243.0,355.2 1240.8,354.4" fill="#0d0d0d"/><polygon points="1244.0,275.6 1266.0,284.9 1272.2,367.5 1250.2,358.2" fill="#141414"/><polygon points="1244.0,275.6 1266.0,284.9 1266.0,287.9 1244.0,278.6" fill="#0a0a0a"/><polygon points="1263.8,284.1 1266.0,284.9 1272.2,367.5 1270.0,366.7" fill="#0d0d0d"/><polygon points="1274.3,288.4 1297.3,298.1 1303.5,380.8 1280.5,371.0" fill="#121212"/><polygon points="1274.3,288.4 1297.3,298.1 1297.3,301.1 1274.3,291.4" fill="#0a0a0a"/><polygon points="1295.1,297.3 1297.3,298.1 1303.5,380.8 1301.3,380.0" fill="#0d0d0d"/><polygon points="1304.3,301.1 1327.3,310.9 1333.5,393.6 1310.5,383.8" fill="#111111"/><polygon points="1304.3,301.1 1327.3,310.9 1327.3,313.9 1304.3,304.1" fill="#0a0a0a"/><polygon points="1325.1,310.1 1327.3,310.9 1333.5,393.6 1331.3,392.8" fill="#0d0d0d"/><polygon points="1336.3,314.8 1351.3,321.3 1357.5,403.9 1342.5,397.5" fill="#111111"/><polygon points="1336.3,314.8 1351.3,321.3 1351.3,324.3 1336.3,317.8" fill="#0a0a0a"/><polygon points="1349.1,320.5 1351.3,321.3 1357.5,403.9 1355.3,403.1" fill="#0d0d0d"/><polygon points="944.4,247.7 961.1,254.1 961.1,514.1 944.4,507.7" fill="#2e2e2e"/><polygon points="944.4,247.7 961.1,254.1 961.1,257.1 944.4,250.7" fill="#0a0a0a"/><polygon points="958.9,253.3 961.1,254.1 961.1,514.1 958.9,513.3" fill="#0d0d0d"/><polygon points="971.3,258.1 985.8,263.7 985.8,523.7 971.3,518.1" fill="#2a2a2a"/><polygon points="971.3,258.1 985.8,263.7 985.8,266.7 971.3,261.1" fill="#0a0a0a"/><polygon points="983.6,262.9 985.8,263.7 985.8,523.7 983.6,522.9" fill="#0d0d0d"/><polygon points="996.3,267.8 1011.8,273.9 1011.8,533.9 996.3,527.8" fill="#272727"/><polygon points="996.3,267.8 1011.8,273.9 1011.8,276.9 996.3,270.8" fill="#0a0a0a"/><polygon points="1009.6,273.1 1011.8,273.9 1011.8,533.9 1009.6,533.1" fill="#0d0d0d"/><polygon points="1022.4,278.0 1036.4,283.6 1036.7,543.7 1022.7,538.1" fill="#252525"/><polygon points="1022.4,278.0 1036.4,283.6 1036.4,286.6 1022.4,281.0" fill="#0a0a0a"/><polygon points="1034.2,282.8 1036.4,283.6 1036.7,543.7 1034.5,542.9" fill="#0d0d0d"/><polygon points="1046.8,287.7 1058.8,292.5 1061.6,553.6 1049.6,548.8" fill="#232323"/><polygon points="1046.8,287.7 1058.8,292.5 1058.8,295.5 1046.8,290.7" fill="#0a0a0a"/><polygon points="1056.6,291.7 1058.8,292.5 1061.6,553.6 1059.4,552.8" fill="#0d0d0d"/><polygon points="1069.3,296.6 1080.8,301.2 1086.0,563.3 1074.5,558.7" fill="#212121"/><polygon points="1069.3,296.6 1080.8,301.2 1080.8,304.2 1069.3,299.6" fill="#0a0a0a"/><polygon points="1078.6,300.4 1080.8,301.2 1086.0,563.3 1083.8,562.5" fill="#0d0d0d"/><polygon points="1089.7,304.8 1100.7,309.2 1108.0,572.2 1097.0,567.7" fill="#1f1f1f"/><polygon points="1089.7,304.8 1100.7,309.2 1100.7,312.2 1089.7,307.8" fill="#0a0a0a"/><polygon points="1098.5,308.4 1100.7,309.2 1108.0,572.2 1105.8,571.4" fill="#0d0d0d"/><polygon points="1109.1,312.6 1120.6,317.3 1130.0,581.1 1118.5,576.4" fill="#1e1e1e"/><polygon points="1109.1,312.6 1120.6,317.3 1120.6,320.3 1109.1,315.6" fill="#0a0a0a"/><polygon points="1118.4,316.5 1120.6,317.3 1130.0,581.1 1127.8,580.3" fill="#0d0d0d"/><polygon points="1130.6,321.3 1143.1,326.4 1154.8,591.2 1142.3,586.1" fill="#1c1c1c"/><polygon points="1130.6,321.3 1143.1,326.4 1143.1,329.4 1130.6,324.3" fill="#0a0a0a"/><polygon points="1140.9,325.6 1143.1,326.4 1154.8,591.2 1152.6,590.4" fill="#0d0d0d"/><polygon points="1153.0,330.4 1168.0,336.6 1182.1,602.4 1167.1,596.2" fill="#1b1b1b"/><polygon points="1153.0,330.4 1168.0,336.6 1168.0,339.6 1153.0,333.4" fill="#0a0a0a"/><polygon points="1165.8,335.8 1168.0,336.6 1182.1,602.4 1179.9,601.6" fill="#0d0d0d"/><polygon points="1179.6,341.4 1194.4,347.5 1211.5,614.5 1196.7,608.4" fill="#191919"/><polygon points="1179.6,341.4 1194.4,347.5 1194.4,350.5 1179.6,344.4" fill="#0a0a0a"/><polygon points="1192.2,346.7 1194.4,347.5 1211.5,614.5 1209.3,613.7" fill="#0d0d0d"/><polygon points="1205.2,352.0 1220.4,358.3 1240.3,626.6 1225.1,620.2" fill="#171717"/><polygon points="1205.2,352.0 1220.4,358.3 1220.4,361.3 1205.2,355.0" fill="#0a0a0a"/><polygon points="1218.2,357.5 1220.4,358.3 1240.3,626.6 1238.1,625.8" fill="#0d0d0d"/><polygon points="1228.5,361.6 1244.0,368.1 1264.1,636.6 1248.6,630.0" fill="#161616"/><polygon points="1228.5,361.6 1244.0,368.1 1244.0,371.1 1228.5,364.6" fill="#0a0a0a"/><polygon points="1241.8,367.3 1244.0,368.1 1264.1,636.6 1261.9,635.8" fill="#0d0d0d"/><polygon points="1251.2,371.1 1273.2,380.4 1293.3,648.9 1271.3,639.6" fill="#141414"/><polygon points="1251.2,371.1 1273.2,380.4 1273.2,383.4 1251.2,374.1" fill="#0a0a0a"/><polygon points="1271.0,379.6 1273.2,380.4 1293.3,648.9 1291.1,648.1" fill="#0d0d0d"/><polygon points="1281.5,383.9 1304.5,393.7 1324.6,662.3 1301.6,652.5" fill="#121212"/><polygon points="1281.5,383.9 1304.5,393.7 1304.5,396.7 1281.5,386.9" fill="#0a0a0a"/><polygon points="1302.3,392.9 1304.5,393.7 1324.6,662.3 1322.4,661.5" fill="#0d0d0d"/><polygon points="1311.5,396.7 1334.5,406.5 1354.6,675.2 1331.6,665.3" fill="#111111"/><polygon points="1311.5,396.7 1334.5,406.5 1334.5,409.5 1311.5,399.7" fill="#0a0a0a"/><polygon points="1332.3,405.7 1334.5,406.5 1354.6,675.2 1352.4,674.4" fill="#0d0d0d"/><polygon points="1343.5,410.4 1358.5,416.9 1378.6,685.6 1363.6,679.1" fill="#111111"/><polygon points="1343.5,410.4 1358.5,416.9 1358.5,419.9 1343.5,413.4" fill="#0a0a0a"/><polygon points="1356.3,416.1 1358.5,416.9 1378.6,685.6 1376.4,684.8" fill="#0d0d0d"/></g><polygon points="926.5,41.0 943.0,41.0 944.0,387.0 927.0,387.0" fill="#464646"/><polygon points="926.5,41.0 943.0,41.0 944.0,387.0 927.0,387.0" fill="url(#brickD)"/>
<clipPath id="clipD"><polygon points="1331,41 1711,41 1790,387 1369,387"/></clipPath><g clip-path="url(#clipD)"><polygon points="1325.0,41.0 1800.0,41.0 1800.0,387.0 1325.0,387.0" fill="#373737"/><polygon points="1325.0,41.0 1800.0,41.0 1800.0,387.0 1325.0,387.0" fill="url(#brickD)"/><polygon points="1354.6,57.0 1378.9,48.2 1390.9,118.5 1366.6,127.2" fill="#0e0e0e"/><polygon points="1354.6,57.0 1378.9,48.2 1379.3,50.2 1355.0,59.0" fill="#161616"/><polygon points="1354.6,57.0 1356.2,56.5 1368.2,126.7 1366.6,127.2" fill="#1a1a1a"/><polygon points="1387.0,45.3 1409.7,37.1 1421.7,107.4 1399.0,115.5" fill="#181818"/><polygon points="1387.0,45.3 1409.7,37.1 1410.1,39.1 1387.4,47.3" fill="#161616"/><polygon points="1387.0,45.3 1388.6,44.8 1400.6,115.0 1399.0,115.5" fill="#1a1a1a"/><polygon points="1419.4,33.6 1442.1,25.5 1454.4,95.6 1431.7,103.8" fill="#1f1f1f"/><polygon points="1419.4,33.6 1442.1,25.5 1442.5,27.5 1419.8,35.6" fill="#161616"/><polygon points="1419.4,33.6 1421.0,33.1 1433.3,103.3 1431.7,103.8" fill="#1a1a1a"/><polygon points="1451.8,22.0 1477.8,12.7 1490.6,82.6 1464.6,91.9" fill="#1f1f1f"/><polygon points="1451.8,22.0 1477.8,12.7 1478.2,14.7 1452.2,24.0" fill="#161616"/><polygon points="1451.8,22.0 1453.4,21.5 1466.2,91.4 1464.6,91.9" fill="#1a1a1a"/><polygon points="1485.9,9.7 1511.8,0.4 1525.1,70.1 1499.2,79.5" fill="#1f1f1f"/><polygon points="1485.9,9.7 1511.8,0.4 1512.2,2.4 1486.3,11.7" fill="#161616"/><polygon points="1485.9,9.7 1487.5,9.2 1500.8,79.0 1499.2,79.5" fill="#1a1a1a"/><polygon points="1521.5,-3.1 1545.8,-11.8 1559.7,57.7 1535.4,66.4" fill="#1f1f1f"/><polygon points="1521.5,-3.1 1545.8,-11.8 1546.2,-9.8 1521.9,-1.1" fill="#161616"/><polygon points="1521.5,-3.1 1523.1,-3.6 1537.0,65.9 1535.4,66.4" fill="#1a1a1a"/><polygon points="1555.5,-15.3 1581.5,-24.7 1595.9,44.6 1570.0,54.0" fill="#1f1f1f"/><polygon points="1555.5,-15.3 1581.5,-24.7 1581.9,-22.7 1555.9,-13.3" fill="#161616"/><polygon points="1555.5,-15.3 1557.1,-15.8 1571.6,53.5 1570.0,54.0" fill="#1a1a1a"/><polygon points="1591.2,-28.2 1617.1,-37.5 1632.1,31.6 1606.2,40.9" fill="#1f1f1f"/><polygon points="1591.2,-28.2 1617.1,-37.5 1617.5,-35.5 1591.6,-26.2" fill="#161616"/><polygon points="1591.2,-28.2 1592.8,-28.7 1607.8,40.4 1606.2,40.9" fill="#1a1a1a"/><polygon points="1626.8,-41.0 1652.8,-50.3 1668.3,18.6 1642.4,27.9" fill="#1f1f1f"/><polygon points="1626.8,-41.0 1652.8,-50.3 1653.2,-48.3 1627.2,-39.0" fill="#161616"/><polygon points="1626.8,-41.0 1628.4,-41.5 1644.0,27.4 1642.4,27.9" fill="#1a1a1a"/><polygon points="1370.8,135.4 1393.5,127.2 1405.5,197.5 1382.8,205.6" fill="#181818"/><polygon points="1370.8,135.4 1393.5,127.2 1393.9,129.2 1371.2,137.4" fill="#161616"/><polygon points="1370.8,135.4 1372.4,134.9 1384.4,205.1 1382.8,205.6" fill="#1a1a1a"/><polygon points="1400.0,124.9 1422.7,116.7 1434.6,187.0 1411.9,195.1" fill="#1f1f1f"/><polygon points="1400.0,124.9 1422.7,116.7 1423.1,118.7 1400.4,126.9" fill="#161616"/><polygon points="1400.0,124.9 1401.6,124.4 1413.5,194.6 1411.9,195.1" fill="#1a1a1a"/><polygon points="1429.2,114.4 1455.1,105.1 1467.5,175.1 1441.6,184.5" fill="#1f1f1f"/><polygon points="1429.2,114.4 1455.1,105.1 1455.5,107.1 1429.6,116.4" fill="#161616"/><polygon points="1429.2,114.4 1430.8,113.9 1443.2,184.0 1441.6,184.5" fill="#1a1a1a"/><polygon points="1463.2,102.2 1490.7,92.2 1503.7,162.1 1476.2,172.0" fill="#1f1f1f"/><polygon points="1463.2,102.2 1490.7,92.2 1491.1,94.2 1463.6,104.2" fill="#161616"/><polygon points="1463.2,102.2 1464.8,101.7 1477.8,171.5 1476.2,172.0" fill="#1a1a1a"/><polygon points="1497.2,89.9 1544.2,73.0 1557.7,142.7 1510.7,159.6" fill="#1f1f1f"/><polygon points="1497.2,89.9 1544.2,73.0 1544.6,75.0 1497.6,91.9" fill="#161616"/><polygon points="1497.2,89.9 1498.8,89.4 1512.3,159.1 1510.7,159.6" fill="#1a1a1a"/><polygon points="1549.1,71.2 1597.7,53.7 1612.0,123.1 1563.4,140.6" fill="#1f1f1f"/><polygon points="1549.1,71.2 1597.7,53.7 1598.1,55.7 1549.5,73.2" fill="#161616"/><polygon points="1549.1,71.2 1550.7,70.7 1565.0,140.1 1563.4,140.6" fill="#1a1a1a"/><polygon points="1607.4,50.2 1656.0,32.7 1671.3,101.8 1622.7,119.3" fill="#1f1f1f"/><polygon points="1607.4,50.2 1656.0,32.7 1656.4,34.7 1607.8,52.2" fill="#161616"/><polygon points="1607.4,50.2 1609.0,49.7 1624.3,118.8 1622.7,119.3" fill="#1a1a1a"/><polygon points="1662.5,30.4 1717.6,10.6 1733.7,79.3 1678.6,99.1" fill="#1f1f1f"/><polygon points="1662.5,30.4 1717.6,10.6 1718.0,12.6 1662.9,32.4" fill="#161616"/><polygon points="1662.5,30.4 1664.1,29.9 1680.2,98.6 1678.6,99.1" fill="#1a1a1a"/><polygon points="1724.0,8.2 1756.4,-3.4 1773.5,65.0 1741.1,76.6" fill="#1f1f1f"/><polygon points="1724.0,8.2 1756.4,-3.4 1756.8,-1.4 1724.4,10.2" fill="#161616"/><polygon points="1724.0,8.2 1725.6,7.7 1742.7,76.1 1741.1,76.6" fill="#1a1a1a"/><polygon points="1344.9,229.0 1364.4,222.0 1376.3,292.2 1356.9,299.2" fill="#0e0e0e"/><polygon points="1344.9,229.0 1364.4,222.0 1364.8,224.0 1345.3,231.0" fill="#161616"/><polygon points="1344.9,229.0 1346.5,228.5 1358.5,298.7 1356.9,299.2" fill="#1a1a1a"/><polygon points="1374.1,218.5 1393.5,211.5 1405.5,281.7 1386.0,288.7" fill="#181818"/><polygon points="1374.1,218.5 1393.5,211.5 1393.9,213.5 1374.5,220.5" fill="#161616"/><polygon points="1374.1,218.5 1375.7,218.0 1387.6,288.2 1386.0,288.7" fill="#1a1a1a"/><polygon points="1403.2,208.0 1422.7,201.0 1434.7,271.2 1415.2,278.2" fill="#1f1f1f"/><polygon points="1403.2,208.0 1422.7,201.0 1423.1,203.0 1403.6,210.0" fill="#161616"/><polygon points="1403.2,208.0 1404.8,207.5 1416.8,277.7 1415.2,278.2" fill="#1a1a1a"/><polygon points="1430.8,198.1 1449.6,191.3 1462.0,261.4 1443.2,268.1" fill="#1f1f1f"/><polygon points="1430.8,198.1 1449.6,191.3 1450.0,193.3 1431.2,200.1" fill="#161616"/><polygon points="1430.8,198.1 1432.4,197.6 1444.8,267.6 1443.2,268.1" fill="#1a1a1a"/><polygon points="1458.3,188.2 1477.8,181.2 1490.7,251.0 1471.2,258.0" fill="#1f1f1f"/><polygon points="1458.3,188.2 1477.8,181.2 1478.2,183.2 1458.7,190.2" fill="#161616"/><polygon points="1458.3,188.2 1459.9,187.7 1472.8,257.5 1471.2,258.0" fill="#1a1a1a"/><polygon points="1484.3,178.8 1504.3,171.6 1517.6,241.3 1497.6,248.6" fill="#1f1f1f"/><polygon points="1484.3,178.8 1504.3,171.6 1504.7,173.6 1484.7,180.8" fill="#161616"/><polygon points="1484.3,178.8 1485.9,178.3 1499.2,248.1 1497.6,248.6" fill="#1a1a1a"/><polygon points="1511.8,168.9 1536.1,160.2 1549.8,229.7 1525.5,238.5" fill="#1f1f1f"/><polygon points="1511.8,168.9 1536.1,160.2 1536.5,162.2 1512.2,170.9" fill="#161616"/><polygon points="1511.8,168.9 1513.4,168.4 1527.1,238.0 1525.5,238.5" fill="#1a1a1a"/><polygon points="1545.8,156.7 1571.7,147.3 1586.0,216.7 1560.1,226.0" fill="#1f1f1f"/><polygon points="1545.8,156.7 1571.7,147.3 1572.1,149.3 1546.2,158.7" fill="#161616"/><polygon points="1545.8,156.7 1547.4,156.2 1561.7,225.5 1560.1,226.0" fill="#1a1a1a"/><polygon points="1581.5,143.8 1610.6,133.3 1625.5,202.5 1596.3,213.0" fill="#1f1f1f"/><polygon points="1581.5,143.8 1610.6,133.3 1611.0,135.3 1581.9,145.8" fill="#161616"/><polygon points="1581.5,143.8 1583.1,143.3 1597.9,212.5 1596.3,213.0" fill="#1a1a1a"/><polygon points="1617.1,131.0 1646.3,120.5 1661.7,189.5 1632.5,200.0" fill="#1f1f1f"/><polygon points="1617.1,131.0 1646.3,120.5 1646.7,122.5 1617.5,133.0" fill="#161616"/><polygon points="1617.1,131.0 1618.7,130.5 1634.1,199.5 1632.5,200.0" fill="#1a1a1a"/><polygon points="1654.4,117.6 1685.2,106.5 1701.2,175.3 1670.4,186.3" fill="#1f1f1f"/><polygon points="1654.4,117.6 1685.2,106.5 1685.6,108.5 1654.8,119.6" fill="#161616"/><polygon points="1654.4,117.6 1656.0,117.1 1672.0,185.8 1670.4,186.3" fill="#1a1a1a"/><polygon points="1707.8,98.3 1745.1,84.9 1761.9,153.4 1724.7,166.8" fill="#1f1f1f"/><polygon points="1707.8,98.3 1745.1,84.9 1745.5,86.9 1708.2,100.3" fill="#161616"/><polygon points="1707.8,98.3 1709.4,97.8 1726.3,166.3 1724.7,166.8" fill="#1a1a1a"/><polygon points="1751.6,82.6 1777.5,73.2 1794.6,141.6 1768.7,151.0" fill="#1f1f1f"/><polygon points="1751.6,82.6 1777.5,73.2 1777.9,75.2 1752.0,84.6" fill="#161616"/><polygon points="1751.6,82.6 1753.2,82.1 1770.3,150.5 1768.7,151.0" fill="#1a1a1a"/><polygon points="1361.1,307.4 1383.8,299.2 1395.2,366.4 1372.5,374.6" fill="#0e0e0e"/><polygon points="1361.1,307.4 1383.8,299.2 1384.2,301.2 1361.5,309.4" fill="#161616"/><polygon points="1361.1,307.4 1362.7,306.9 1374.1,374.1 1372.5,374.6" fill="#1a1a1a"/><polygon points="1393.5,295.7 1416.2,287.6 1427.6,354.7 1404.9,362.9" fill="#1f1f1f"/><polygon points="1393.5,295.7 1416.2,287.6 1416.6,289.6 1393.9,297.7" fill="#161616"/><polygon points="1393.5,295.7 1395.1,295.2 1406.5,362.4 1404.9,362.9" fill="#1a1a1a"/><polygon points="1424.3,284.7 1448.6,275.9 1460.4,342.9 1436.1,351.7" fill="#1f1f1f"/><polygon points="1424.3,284.7 1448.6,275.9 1449.0,277.9 1424.7,286.7" fill="#161616"/><polygon points="1424.3,284.7 1425.9,284.2 1437.7,351.2 1436.1,351.7" fill="#1a1a1a"/><polygon points="1456.7,273.0 1481.0,264.2 1493.3,331.1 1469.0,339.8" fill="#1f1f1f"/><polygon points="1456.7,273.0 1481.0,264.2 1481.4,266.2 1457.1,275.0" fill="#161616"/><polygon points="1456.7,273.0 1458.3,272.5 1470.6,339.3 1469.0,339.8" fill="#1a1a1a"/><polygon points="1489.1,261.3 1515.0,252.0 1527.8,318.7 1501.9,328.0" fill="#1f1f1f"/><polygon points="1489.1,261.3 1515.0,252.0 1515.4,254.0 1489.5,263.3" fill="#161616"/><polygon points="1489.1,261.3 1490.7,260.8 1503.5,327.5 1501.9,328.0" fill="#1a1a1a"/><polygon points="1524.8,248.5 1550.7,239.2 1564.0,305.6 1538.1,315.0" fill="#1f1f1f"/><polygon points="1524.8,248.5 1550.7,239.2 1551.1,241.2 1525.2,250.5" fill="#161616"/><polygon points="1524.8,248.5 1526.4,248.0 1539.7,314.5 1538.1,315.0" fill="#1a1a1a"/><polygon points="1560.4,235.7 1587.9,225.7 1601.8,292.0 1574.3,301.9" fill="#1f1f1f"/><polygon points="1560.4,235.7 1587.9,225.7 1588.3,227.7 1560.8,237.7" fill="#161616"/><polygon points="1560.4,235.7 1562.0,235.2 1575.9,301.4 1574.3,301.9" fill="#1a1a1a"/><polygon points="1597.7,222.2 1625.2,212.3 1639.7,278.4 1612.1,288.3" fill="#1f1f1f"/><polygon points="1597.7,222.2 1625.2,212.3 1625.6,214.3 1598.1,224.2" fill="#161616"/><polygon points="1597.7,222.2 1599.3,221.7 1613.7,287.8 1612.1,288.3" fill="#1a1a1a"/><polygon points="1633.3,209.4 1661.8,199.1 1676.8,265.0 1648.3,275.3" fill="#1f1f1f"/><polygon points="1633.3,209.4 1661.8,199.1 1662.2,201.1 1633.7,211.4" fill="#161616"/><polygon points="1633.3,209.4 1634.9,208.9 1649.9,274.8 1648.3,275.3" fill="#1a1a1a"/><polygon points="1670.6,196.0 1699.7,185.5 1715.3,251.2 1686.1,261.7" fill="#1f1f1f"/><polygon points="1670.6,196.0 1699.7,185.5 1700.1,187.5 1671.0,198.0" fill="#161616"/><polygon points="1670.6,196.0 1672.2,195.5 1687.7,261.2 1686.1,261.7" fill="#1a1a1a"/><polygon points="1707.8,182.6 1730.5,174.4 1746.6,239.9 1724.0,248.1" fill="#1f1f1f"/><polygon points="1707.8,182.6 1730.5,174.4 1730.9,176.4 1708.2,184.6" fill="#161616"/><polygon points="1707.8,182.6 1709.4,182.1 1725.6,247.6 1724.0,248.1" fill="#1a1a1a"/><polygon points="1737.0,172.1 1759.7,163.9 1776.0,229.3 1753.4,237.5" fill="#1f1f1f"/><polygon points="1737.0,172.1 1759.7,163.9 1760.1,165.9 1737.4,174.1" fill="#161616"/><polygon points="1737.0,172.1 1738.6,171.6 1755.0,237.0 1753.4,237.5" fill="#1a1a1a"/><polygon points="1766.2,161.6 1788.9,153.4 1805.2,218.8 1782.5,227.0" fill="#1f1f1f"/><polygon points="1766.2,161.6 1788.9,153.4 1789.3,155.4 1766.6,163.6" fill="#161616"/><polygon points="1766.2,161.6 1767.8,161.1 1784.1,226.5 1782.5,227.0" fill="#1a1a1a"/><polygon points="1380.6,381.4 1400.0,374.4 1411.9,444.6 1392.5,451.6" fill="#181818"/><polygon points="1380.6,381.4 1400.0,374.4 1400.4,376.4 1381.0,383.4" fill="#161616"/><polygon points="1380.6,381.4 1382.2,380.9 1394.1,451.1 1392.5,451.6" fill="#1a1a1a"/><polygon points="1406.5,372.1 1425.9,365.1 1438.0,435.3 1418.5,442.3" fill="#1f1f1f"/><polygon points="1406.5,372.1 1425.9,365.1 1426.3,367.1 1406.9,374.1" fill="#161616"/><polygon points="1406.5,372.1 1408.1,371.6 1420.1,441.8 1418.5,442.3" fill="#1a1a1a"/><polygon points="1432.4,362.7 1453.5,355.2 1465.9,425.2 1444.9,432.8" fill="#1f1f1f"/><polygon points="1432.4,362.7 1453.5,355.2 1453.9,357.2 1432.8,364.7" fill="#161616"/><polygon points="1432.4,362.7 1434.0,362.2 1446.5,432.3 1444.9,432.8" fill="#1a1a1a"/><polygon points="1464.8,351.1 1487.5,342.9 1500.5,412.8 1477.8,420.9" fill="#1f1f1f"/><polygon points="1464.8,351.1 1487.5,342.9 1487.9,344.9 1465.2,353.1" fill="#161616"/><polygon points="1464.8,351.1 1466.4,350.6 1479.4,420.4 1477.8,420.9" fill="#1a1a1a"/><polygon points="1502.1,337.7 1524.8,329.5 1538.4,399.1 1515.7,407.3" fill="#1f1f1f"/><polygon points="1502.1,337.7 1524.8,329.5 1525.2,331.5 1502.5,339.7" fill="#161616"/><polygon points="1502.1,337.7 1503.7,337.2 1517.3,406.8 1515.7,407.3" fill="#1a1a1a"/><polygon points="1539.3,324.3 1559.4,317.0 1573.6,386.4 1553.5,393.7" fill="#1f1f1f"/><polygon points="1539.3,324.3 1559.4,317.0 1559.8,319.0 1539.7,326.3" fill="#161616"/><polygon points="1539.3,324.3 1540.9,323.8 1555.1,393.2 1553.5,393.7" fill="#1a1a1a"/><polygon points="1566.9,314.3 1587.9,306.8 1602.6,376.0 1581.5,383.6" fill="#1f1f1f"/><polygon points="1566.9,314.3 1587.9,306.8 1588.3,308.8 1567.3,316.3" fill="#161616"/><polygon points="1566.9,314.3 1568.5,313.8 1583.1,383.1 1581.5,383.6" fill="#1a1a1a"/><polygon points="1594.4,304.4 1617.1,296.3 1632.2,365.4 1609.5,373.5" fill="#1f1f1f"/><polygon points="1594.4,304.4 1617.1,296.3 1617.5,298.3 1594.8,306.4" fill="#161616"/><polygon points="1594.4,304.4 1596.0,303.9 1611.1,373.0 1609.5,373.5" fill="#1a1a1a"/><polygon points="1623.6,293.9 1646.3,285.8 1661.8,354.7 1639.1,362.9" fill="#1f1f1f"/><polygon points="1623.6,293.9 1646.3,285.8 1646.7,287.8 1624.0,295.9" fill="#161616"/><polygon points="1623.6,293.9 1625.2,293.4 1640.7,362.4 1639.1,362.9" fill="#1a1a1a"/><polygon points="1651.1,284.0 1675.4,275.3 1691.4,344.0 1667.1,352.8" fill="#1f1f1f"/><polygon points="1651.1,284.0 1675.4,275.3 1675.8,277.3 1651.5,286.0" fill="#161616"/><polygon points="1651.1,284.0 1652.7,283.5 1668.7,352.3 1667.1,352.8" fill="#1a1a1a"/><polygon points="1678.7,274.1 1703.0,265.3 1719.4,334.0 1695.1,342.7" fill="#1f1f1f"/><polygon points="1678.7,274.1 1703.0,265.3 1703.4,267.3 1679.1,276.1" fill="#161616"/><polygon points="1678.7,274.1 1680.3,273.6 1696.7,342.2 1695.1,342.7" fill="#1a1a1a"/><polygon points="1707.8,263.6 1730.5,255.4 1747.4,323.9 1724.7,332.1" fill="#1f1f1f"/><polygon points="1707.8,263.6 1730.5,255.4 1730.9,257.4 1708.2,265.6" fill="#161616"/><polygon points="1707.8,263.6 1709.4,263.1 1726.3,331.6 1724.7,332.1" fill="#1a1a1a"/><polygon points="1737.0,253.1 1759.7,244.9 1776.8,313.3 1754.1,321.5" fill="#1f1f1f"/><polygon points="1737.0,253.1 1759.7,244.9 1760.1,246.9 1737.4,255.1" fill="#161616"/><polygon points="1737.0,253.1 1738.6,252.6 1755.7,321.0 1754.1,321.5" fill="#1a1a1a"/><polygon points="1766.2,242.6 1788.9,234.4 1805.9,302.8 1783.3,311.0" fill="#1f1f1f"/><polygon points="1766.2,242.6 1788.9,234.4 1789.3,236.4 1766.6,244.6" fill="#161616"/><polygon points="1766.2,242.6 1767.8,242.1 1784.9,310.5 1783.3,311.0" fill="#1a1a1a"/><polygon points="1795.3,232.1 1818.0,223.9 1835.1,292.3 1812.4,300.5" fill="#1f1f1f"/><polygon points="1795.3,232.1 1818.0,223.9 1818.4,225.9 1795.7,234.1" fill="#161616"/><polygon points="1795.3,232.1 1796.9,231.6 1814.0,300.0 1812.4,300.5" fill="#1a1a1a"/><polygon points="1393.5,461.0 1413.0,454.0 1424.9,524.2 1405.5,531.2" fill="#1f1f1f"/><polygon points="1393.5,461.0 1413.0,454.0 1413.4,456.0 1393.9,463.0" fill="#161616"/><polygon points="1393.5,461.0 1395.1,460.5 1407.1,530.7 1405.5,531.2" fill="#1a1a1a"/><polygon points="1419.4,451.7 1438.9,444.7 1451.1,514.8 1431.7,521.8" fill="#1f1f1f"/><polygon points="1419.4,451.7 1438.9,444.7 1439.3,446.7 1419.8,453.7" fill="#161616"/><polygon points="1419.4,451.7 1421.0,451.2 1433.3,521.3 1431.7,521.8" fill="#1a1a1a"/><polygon points="1445.4,442.3 1466.4,434.8 1479.1,504.7 1458.0,512.3" fill="#1f1f1f"/><polygon points="1445.4,442.3 1466.4,434.8 1466.8,436.8 1445.8,444.3" fill="#161616"/><polygon points="1445.4,442.3 1447.0,441.8 1459.6,511.8 1458.0,512.3" fill="#1a1a1a"/><polygon points="1477.8,430.7 1500.5,422.5 1513.7,492.3 1491.0,500.4" fill="#1f1f1f"/><polygon points="1477.8,430.7 1500.5,422.5 1500.9,424.5 1478.2,432.7" fill="#161616"/><polygon points="1477.8,430.7 1479.4,430.2 1492.6,499.9 1491.0,500.4" fill="#1a1a1a"/><polygon points="1515.0,417.3 1537.7,409.1 1551.5,478.6 1528.8,486.8" fill="#1f1f1f"/><polygon points="1515.0,417.3 1537.7,409.1 1538.1,411.1 1515.4,419.3" fill="#161616"/><polygon points="1515.0,417.3 1516.6,416.8 1530.4,486.3 1528.8,486.8" fill="#1a1a1a"/><polygon points="1552.3,403.8 1572.4,396.6 1586.8,466.0 1566.7,473.2" fill="#1f1f1f"/><polygon points="1552.3,403.8 1572.4,396.6 1572.8,398.6 1552.7,405.8" fill="#161616"/><polygon points="1552.3,403.8 1553.9,403.3 1568.3,472.7 1566.7,473.2" fill="#1a1a1a"/><polygon points="1579.8,393.9 1600.9,386.3 1615.7,455.5 1594.7,463.1" fill="#1f1f1f"/><polygon points="1579.8,393.9 1600.9,386.3 1601.3,388.3 1580.2,395.9" fill="#161616"/><polygon points="1579.8,393.9 1581.4,393.4 1596.3,462.6 1594.7,463.1" fill="#1a1a1a"/><polygon points="1607.4,384.0 1630.1,375.8 1645.3,444.9 1622.7,453.0" fill="#1f1f1f"/><polygon points="1607.4,384.0 1630.1,375.8 1630.5,377.8 1607.8,386.0" fill="#161616"/><polygon points="1607.4,384.0 1609.0,383.5 1624.3,452.5 1622.7,453.0" fill="#1a1a1a"/><polygon points="1636.6,373.5 1659.2,365.3 1675.0,434.2 1652.3,442.4" fill="#1f1f1f"/><polygon points="1636.6,373.5 1659.2,365.3 1659.6,367.3 1637.0,375.5" fill="#161616"/><polygon points="1636.6,373.5 1638.2,373.0 1653.9,441.9 1652.3,442.4" fill="#1a1a1a"/><polygon points="1664.1,363.6 1688.4,354.8 1704.6,423.6 1680.3,432.3" fill="#1f1f1f"/><polygon points="1664.1,363.6 1688.4,354.8 1688.8,356.8 1664.5,365.6" fill="#161616"/><polygon points="1664.1,363.6 1665.7,363.1 1681.9,431.8 1680.3,432.3" fill="#1a1a1a"/><polygon points="1691.6,353.7 1715.9,344.9 1732.5,413.5 1708.2,422.2" fill="#1f1f1f"/><polygon points="1691.6,353.7 1715.9,344.9 1716.3,346.9 1692.0,355.7" fill="#161616"/><polygon points="1691.6,353.7 1693.2,353.2 1709.8,421.7 1708.2,422.2" fill="#1a1a1a"/><polygon points="1720.8,343.2 1743.5,335.0 1760.5,403.4 1737.8,411.6" fill="#1f1f1f"/><polygon points="1720.8,343.2 1743.5,335.0 1743.9,337.0 1721.2,345.2" fill="#161616"/><polygon points="1720.8,343.2 1722.4,342.7 1739.4,411.1 1737.8,411.6" fill="#1a1a1a"/><polygon points="1750.0,332.7 1772.7,324.5 1789.7,392.9 1767.1,401.1" fill="#1f1f1f"/><polygon points="1750.0,332.7 1772.7,324.5 1773.1,326.5 1750.4,334.7" fill="#161616"/><polygon points="1750.0,332.7 1751.6,332.2 1768.7,400.6 1767.1,401.1" fill="#1a1a1a"/><polygon points="1779.1,322.2 1801.8,314.0 1818.9,382.4 1796.2,390.6" fill="#1f1f1f"/><polygon points="1779.1,322.2 1801.8,314.0 1802.2,316.0 1779.5,324.2" fill="#161616"/><polygon points="1779.1,322.2 1780.7,321.7 1797.8,390.1 1796.2,390.6" fill="#1a1a1a"/><polygon points="1808.3,311.7 1831.0,303.5 1848.1,371.9 1825.4,380.1" fill="#1f1f1f"/><polygon points="1808.3,311.7 1831.0,303.5 1831.4,305.5 1808.7,313.7" fill="#161616"/><polygon points="1808.3,311.7 1809.9,311.2 1827.0,379.6 1825.4,380.1" fill="#1a1a1a"/><polygon points="1821.3,307.0 1843.9,298.8 1861.0,367.2 1838.4,375.4" fill="#1f1f1f"/><polygon points="1821.3,307.0 1843.9,298.8 1844.3,300.8 1821.7,309.0" fill="#161616"/><polygon points="1821.3,307.0 1822.9,306.5 1840.0,374.9 1838.4,375.4" fill="#1a1a1a"/><polygon points="1850.4,296.5 1873.1,288.3 1890.2,356.7 1867.5,364.9" fill="#1f1f1f"/><polygon points="1850.4,296.5 1873.1,288.3 1873.5,290.3 1850.8,298.5" fill="#161616"/><polygon points="1850.4,296.5 1852.0,296.0 1869.1,364.4 1867.5,364.9" fill="#1a1a1a"/><polygon points="1406.5,540.6 1425.9,533.6 1438.0,603.8 1418.5,610.8" fill="#1f1f1f"/><polygon points="1406.5,540.6 1425.9,533.6 1426.3,535.6 1406.9,542.6" fill="#161616"/><polygon points="1406.5,540.6 1408.1,540.1 1420.1,610.3 1418.5,610.8" fill="#1a1a1a"/><polygon points="1432.4,531.3 1451.8,524.3 1464.3,594.3 1444.9,601.3" fill="#1f1f1f"/><polygon points="1432.4,531.3 1451.8,524.3 1452.2,526.3 1432.8,533.3" fill="#161616"/><polygon points="1432.4,531.3 1434.0,530.8 1446.5,600.8 1444.9,601.3" fill="#1a1a1a"/><polygon points="1458.3,521.9 1479.4,514.3 1492.3,584.2 1471.2,591.8" fill="#1f1f1f"/><polygon points="1458.3,521.9 1479.4,514.3 1479.8,516.3 1458.7,523.9" fill="#161616"/><polygon points="1458.3,521.9 1459.9,521.4 1472.8,591.3 1471.2,591.8" fill="#1a1a1a"/><polygon points="1490.7,510.3 1513.4,502.1 1526.8,571.8 1504.1,580.0" fill="#1f1f1f"/><polygon points="1490.7,510.3 1513.4,502.1 1513.8,504.1 1491.1,512.3" fill="#161616"/><polygon points="1490.7,510.3 1492.3,509.8 1505.7,579.5 1504.1,580.0" fill="#1a1a1a"/><polygon points="1528.0,496.8 1550.7,488.7 1564.7,558.2 1542.0,566.3" fill="#1f1f1f"/><polygon points="1528.0,496.8 1550.7,488.7 1551.1,490.7 1528.4,498.8" fill="#161616"/><polygon points="1528.0,496.8 1529.6,496.3 1543.6,565.8 1542.0,566.3" fill="#1a1a1a"/><polygon points="1565.3,483.4 1585.4,476.2 1600.0,545.5 1579.9,552.7" fill="#1f1f1f"/><polygon points="1565.3,483.4 1585.4,476.2 1585.8,478.2 1565.7,485.4" fill="#161616"/><polygon points="1565.3,483.4 1566.9,482.9 1581.5,552.2 1579.9,552.7" fill="#1a1a1a"/><polygon points="1592.8,473.5 1613.9,465.9 1628.9,535.0 1607.8,542.6" fill="#1f1f1f"/><polygon points="1592.8,473.5 1613.9,465.9 1614.3,467.9 1593.2,475.5" fill="#161616"/><polygon points="1592.8,473.5 1594.4,473.0 1609.4,542.1 1607.8,542.6" fill="#1a1a1a"/><polygon points="1620.3,463.6 1643.0,455.4 1658.5,524.4 1635.8,532.5" fill="#1f1f1f"/><polygon points="1620.3,463.6 1643.0,455.4 1643.4,457.4 1620.7,465.6" fill="#161616"/><polygon points="1620.3,463.6 1621.9,463.1 1637.4,532.0 1635.8,532.5" fill="#1a1a1a"/><polygon points="1649.5,453.1 1672.2,444.9 1688.1,513.7 1665.4,521.9" fill="#1f1f1f"/><polygon points="1649.5,453.1 1672.2,444.9 1672.6,446.9 1649.9,455.1" fill="#161616"/><polygon points="1649.5,453.1 1651.1,452.6 1667.0,521.4 1665.4,521.9" fill="#1a1a1a"/><polygon points="1677.1,443.2 1701.4,434.4 1717.7,503.1 1693.4,511.8" fill="#1f1f1f"/><polygon points="1677.1,443.2 1701.4,434.4 1701.8,436.4 1677.5,445.2" fill="#161616"/><polygon points="1677.1,443.2 1678.7,442.7 1695.0,511.3 1693.4,511.8" fill="#1a1a1a"/><polygon points="1704.6,433.3 1728.9,424.5 1745.7,493.0 1721.4,501.7" fill="#1f1f1f"/><polygon points="1704.6,433.3 1728.9,424.5 1729.3,426.5 1705.0,435.3" fill="#161616"/><polygon points="1704.6,433.3 1706.2,432.8 1723.0,501.2 1721.4,501.7" fill="#1a1a1a"/><polygon points="1733.8,422.8 1756.4,414.6 1773.5,483.0 1750.9,491.1" fill="#1f1f1f"/><polygon points="1733.8,422.8 1756.4,414.6 1756.8,416.6 1734.2,424.8" fill="#161616"/><polygon points="1733.8,422.8 1735.4,422.3 1752.5,490.6 1750.9,491.1" fill="#1a1a1a"/><polygon points="1762.9,412.3 1785.6,404.1 1802.7,472.5 1780.0,480.6" fill="#1f1f1f"/><polygon points="1762.9,412.3 1785.6,404.1 1786.0,406.1 1763.3,414.3" fill="#161616"/><polygon points="1762.9,412.3 1764.5,411.8 1781.6,480.1 1780.0,480.6" fill="#1a1a1a"/><polygon points="1792.1,401.8 1814.8,393.6 1831.9,462.0 1809.2,470.1" fill="#1f1f1f"/><polygon points="1792.1,401.8 1814.8,393.6 1815.2,395.6 1792.5,403.8" fill="#161616"/><polygon points="1792.1,401.8 1793.7,401.3 1810.8,469.6 1809.2,470.1" fill="#1a1a1a"/><polygon points="1821.3,391.3 1843.9,383.1 1861.0,451.5 1838.4,459.6" fill="#1f1f1f"/><polygon points="1821.3,391.3 1843.9,383.1 1844.3,385.1 1821.7,393.3" fill="#161616"/><polygon points="1821.3,391.3 1822.9,390.8 1840.0,459.1 1838.4,459.6" fill="#1a1a1a"/><polygon points="1834.2,386.6 1856.9,378.4 1874.0,446.8 1851.3,455.0" fill="#1f1f1f"/><polygon points="1834.2,386.6 1856.9,378.4 1857.3,380.4 1834.6,388.6" fill="#161616"/><polygon points="1834.2,386.6 1835.8,386.1 1852.9,454.5 1851.3,455.0" fill="#1a1a1a"/><polygon points="1863.4,376.1 1886.1,367.9 1903.2,436.3 1880.5,444.5" fill="#1f1f1f"/><polygon points="1863.4,376.1 1886.1,367.9 1886.5,369.9 1863.8,378.1" fill="#161616"/><polygon points="1863.4,376.1 1865.0,375.6 1882.1,444.0 1880.5,444.5" fill="#1a1a1a"/><polygon points="1892.5,365.6 1915.2,357.4 1932.3,425.8 1909.6,434.0" fill="#1f1f1f"/><polygon points="1892.5,365.6 1915.2,357.4 1915.6,359.4 1892.9,367.6" fill="#161616"/><polygon points="1892.5,365.6 1894.1,365.1 1911.2,433.5 1909.6,434.0" fill="#1a1a1a"/></g>
<clipPath id="clipE"><polygon points="1711,41 1869,41 1869,387 1790,387"/></clipPath><g clip-path="url(#clipE)"><linearGradient id="gE" x1="0" y1="0" x2="0" y2="1"><stop offset="0" stop-color="#4e4e4e"/><stop offset="1" stop-color="#3c3c3c"/></linearGradient><polygon points="1700.0,41.0 1869.0,41.0 1869.0,387.0 1780.0,387.0" fill="url(#gE)"/><line x1="1578.0" y1="41" x2="1692.2" y2="387" stroke="#1e1e1e" stroke-width="3.0"/><line x1="1581.0" y1="41" x2="1695.2" y2="387" stroke="#5c5c5c" stroke-width="1.4"/><polygon points="1566.5,3.0 1574.4,10.0 1589.7,37.0" fill="#171717"/><polygon points="1577.0,35.0 1585.0,42.0 1600.2,69.0" fill="#171717"/><polygon points="1587.6,67.0 1595.5,74.0 1610.8,101.0" fill="#171717"/><polygon points="1598.1,99.0 1606.1,106.0 1621.4,133.0" fill="#171717"/><polygon points="1608.7,131.0 1616.7,138.0 1631.9,165.0" fill="#171717"/><polygon points="1619.3,163.0 1627.2,170.0 1642.5,197.0" fill="#171717"/><polygon points="1629.8,195.0 1637.8,202.0 1653.0,229.0" fill="#171717"/><polygon points="1640.4,227.0 1648.3,234.0 1663.6,261.0" fill="#171717"/><polygon points="1650.9,259.0 1658.9,266.0 1674.2,293.0" fill="#171717"/><polygon points="1661.5,291.0 1669.5,298.0 1684.7,325.0" fill="#171717"/><polygon points="1672.1,323.0 1680.0,330.0 1695.3,357.0" fill="#171717"/><polygon points="1682.6,355.0 1690.6,362.0 1705.8,389.0" fill="#171717"/><polygon points="1693.2,387.0 1701.2,394.0 1716.4,421.0" fill="#171717"/><polygon points="1703.7,419.0 1711.7,426.0 1727.0,453.0" fill="#171717"/><line x1="1592.0" y1="41" x2="1706.2" y2="387" stroke="#1e1e1e" stroke-width="3.0"/><line x1="1595.0" y1="41" x2="1709.2" y2="387" stroke="#5c5c5c" stroke-width="1.4"/><polygon points="1584.4,15.0 1592.4,22.0 1607.6,49.0" fill="#171717"/><polygon points="1595.0,47.0 1603.0,54.0 1618.2,81.0" fill="#171717"/><polygon points="1605.5,79.0 1613.5,86.0 1628.8,113.0" fill="#171717"/><polygon points="1616.1,111.0 1624.1,118.0 1639.3,145.0" fill="#171717"/><polygon points="1626.7,143.0 1634.6,150.0 1649.9,177.0" fill="#171717"/><polygon points="1637.2,175.0 1645.2,182.0 1660.4,209.0" fill="#171717"/><polygon points="1647.8,207.0 1655.8,214.0 1671.0,241.0" fill="#171717"/><polygon points="1658.3,239.0 1666.3,246.0 1681.6,273.0" fill="#171717"/><polygon points="1668.9,271.0 1676.9,278.0 1692.1,305.0" fill="#171717"/><polygon points="1679.5,303.0 1687.4,310.0 1702.7,337.0" fill="#171717"/><polygon points="1690.0,335.0 1698.0,342.0 1713.2,369.0" fill="#171717"/><polygon points="1700.6,367.0 1708.5,374.0 1723.8,401.0" fill="#171717"/><polygon points="1711.1,399.0 1719.1,406.0 1734.4,433.0" fill="#171717"/><polygon points="1721.7,431.0 1729.7,438.0 1744.9,465.0" fill="#171717"/><line x1="1606.0" y1="41" x2="1720.2" y2="387" stroke="#1e1e1e" stroke-width="3.0"/><line x1="1609.0" y1="41" x2="1723.2" y2="387" stroke="#5c5c5c" stroke-width="1.4"/><polygon points="1594.8,4.0 1602.8,11.0 1618.0,38.0" fill="#171717"/><polygon points="1605.3,36.0 1613.3,43.0 1628.6,70.0" fill="#171717"/><polygon points="1615.9,68.0 1623.9,75.0 1639.1,102.0" fill="#171717"/><polygon points="1626.5,100.0 1634.4,107.0 1649.7,134.0" fill="#171717"/><polygon points="1637.0,132.0 1645.0,139.0 1660.2,166.0" fill="#171717"/><polygon points="1647.6,164.0 1655.6,171.0 1670.8,198.0" fill="#171717"/><polygon points="1658.2,196.0 1666.1,203.0 1681.4,230.0" fill="#171717"/><polygon points="1668.7,228.0 1676.7,235.0 1691.9,262.0" fill="#171717"/><polygon points="1679.3,260.0 1687.2,267.0 1702.5,294.0" fill="#171717"/><polygon points="1689.8,292.0 1697.8,299.0 1713.0,326.0" fill="#171717"/><polygon points="1700.4,324.0 1708.4,331.0 1723.6,358.0" fill="#171717"/><polygon points="1711.0,356.0 1718.9,363.0 1734.2,390.0" fill="#171717"/><polygon points="1721.5,388.0 1729.5,395.0 1744.7,422.0" fill="#171717"/><polygon points="1732.1,420.0 1740.0,427.0 1755.3,454.0" fill="#171717"/><line x1="1620.0" y1="41" x2="1734.2" y2="387" stroke="#1e1e1e" stroke-width="3.0"/><line x1="1623.0" y1="41" x2="1737.2" y2="387" stroke="#5c5c5c" stroke-width="1.4"/><polygon points="1612.8,16.0 1620.7,23.0 1636.0,50.0" fill="#171717"/><polygon points="1623.3,48.0 1631.3,55.0 1646.5,82.0" fill="#171717"/><polygon points="1633.9,80.0 1641.8,87.0 1657.1,114.0" fill="#171717"/><polygon points="1644.4,112.0 1652.4,119.0 1667.7,146.0" fill="#171717"/><polygon points="1655.0,144.0 1663.0,151.0 1678.2,178.0" fill="#171717"/><polygon points="1665.5,176.0 1673.5,183.0 1688.8,210.0" fill="#171717"/><polygon points="1676.1,208.0 1684.1,215.0 1699.3,242.0" fill="#171717"/><polygon points="1686.7,240.0 1694.6,247.0 1709.9,274.0" fill="#171717"/><polygon points="1697.2,272.0 1705.2,279.0 1720.5,306.0" fill="#171717"/><polygon points="1707.8,304.0 1715.8,311.0 1731.0,338.0" fill="#171717"/><polygon points="1718.3,336.0 1726.3,343.0 1741.6,370.0" fill="#171717"/><polygon points="1728.9,368.0 1736.9,375.0 1752.1,402.0" fill="#171717"/><polygon points="1739.5,400.0 1747.4,407.0 1762.7,434.0" fill="#171717"/><polygon points="1750.0,432.0 1758.0,439.0 1773.2,466.0" fill="#171717"/><line x1="1634.0" y1="41" x2="1748.2" y2="387" stroke="#1e1e1e" stroke-width="3.0"/><line x1="1637.0" y1="41" x2="1751.2" y2="387" stroke="#5c5c5c" stroke-width="1.4"/><polygon points="1623.1,5.0 1631.1,12.0 1646.3,39.0" fill="#171717"/><polygon points="1633.7,37.0 1641.7,44.0 1656.9,71.0" fill="#171717"/><polygon points="1644.2,69.0 1652.2,76.0 1667.5,103.0" fill="#171717"/><polygon points="1654.8,101.0 1662.8,108.0 1678.0,135.0" fill="#171717"/><polygon points="1665.4,133.0 1673.3,140.0 1688.6,167.0" fill="#171717"/><polygon points="1675.9,165.0 1683.9,172.0 1699.1,199.0" fill="#171717"/><polygon points="1686.5,197.0 1694.5,204.0 1709.7,231.0" fill="#171717"/><polygon points="1697.0,229.0 1705.0,236.0 1720.3,263.0" fill="#171717"/><polygon points="1707.6,261.0 1715.6,268.0 1730.8,295.0" fill="#171717"/><polygon points="1718.2,293.0 1726.1,300.0 1741.4,327.0" fill="#171717"/><polygon points="1728.7,325.0 1736.7,332.0 1751.9,359.0" fill="#171717"/><polygon points="1739.3,357.0 1747.2,364.0 1762.5,391.0" fill="#171717"/><polygon points="1749.8,389.0 1757.8,396.0 1773.1,423.0" fill="#171717"/><polygon points="1760.4,421.0 1768.4,428.0 1783.6,455.0" fill="#171717"/><line x1="1648.0" y1="41" x2="1762.2" y2="387" stroke="#1e1e1e" stroke-width="3.0"/><line x1="1651.0" y1="41" x2="1765.2" y2="387" stroke="#5c5c5c" stroke-width="1.4"/><polygon points="1641.1,17.0 1649.0,24.0 1664.3,51.0" fill="#171717"/><polygon points="1651.6,49.0 1659.6,56.0 1674.9,83.0" fill="#171717"/><polygon points="1662.2,81.0 1670.2,88.0 1685.4,115.0" fill="#171717"/><polygon points="1672.8,113.0 1680.7,120.0 1696.0,147.0" fill="#171717"/><polygon points="1683.3,145.0 1691.3,152.0 1706.5,179.0" fill="#171717"/><polygon points="1693.9,177.0 1701.8,184.0 1717.1,211.0" fill="#171717"/><polygon points="1704.4,209.0 1712.4,216.0 1727.7,243.0" fill="#171717"/><polygon points="1715.0,241.0 1723.0,248.0 1738.2,275.0" fill="#171717"/><polygon points="1725.6,273.0 1733.5,280.0 1748.8,307.0" fill="#171717"/><polygon points="1736.1,305.0 1744.1,312.0 1759.3,339.0" fill="#171717"/><polygon points="1746.7,337.0 1754.7,344.0 1769.9,371.0" fill="#171717"/><polygon points="1757.2,369.0 1765.2,376.0 1780.5,403.0" fill="#171717"/><polygon points="1767.8,401.0 1775.8,408.0 1791.0,435.0" fill="#171717"/><polygon points="1778.4,433.0 1786.3,440.0 1801.6,467.0" fill="#171717"/><line x1="1662.0" y1="41" x2="1776.2" y2="387" stroke="#1e1e1e" stroke-width="3.0"/><line x1="1665.0" y1="41" x2="1779.2" y2="387" stroke="#5c5c5c" stroke-width="1.4"/><polygon points="1651.5,6.0 1659.4,13.0 1674.7,40.0" fill="#171717"/><polygon points="1662.0,38.0 1670.0,45.0 1685.2,72.0" fill="#171717"/><polygon points="1672.6,70.0 1680.5,77.0 1695.8,104.0" fill="#171717"/><polygon points="1683.1,102.0 1691.1,109.0 1706.3,136.0" fill="#171717"/><polygon points="1693.7,134.0 1701.7,141.0 1716.9,168.0" fill="#171717"/><polygon points="1704.2,166.0 1712.2,173.0 1727.5,200.0" fill="#171717"/><polygon points="1714.8,198.0 1722.8,205.0 1738.0,232.0" fill="#171717"/><polygon points="1725.4,230.0 1733.3,237.0 1748.6,264.0" fill="#171717"/><polygon points="1735.9,262.0 1743.9,269.0 1759.2,296.0" fill="#171717"/><polygon points="1746.5,294.0 1754.5,301.0 1769.7,328.0" fill="#171717"/><polygon points="1757.0,326.0 1765.0,333.0 1780.3,360.0" fill="#171717"/><polygon points="1767.6,358.0 1775.6,365.0 1790.8,392.0" fill="#171717"/><polygon points="1778.2,390.0 1786.1,397.0 1801.4,424.0" fill="#171717"/><polygon points="1788.7,422.0 1796.7,429.0 1812.0,456.0" fill="#171717"/><line x1="1676.0" y1="41" x2="1790.2" y2="387" stroke="#1e1e1e" stroke-width="3.0"/><line x1="1679.0" y1="41" x2="1793.2" y2="387" stroke="#5c5c5c" stroke-width="1.4"/><polygon points="1669.4,18.0 1677.4,25.0 1692.6,52.0" fill="#171717"/><polygon points="1680.0,50.0 1687.9,57.0 1703.2,84.0" fill="#171717"/><polygon points="1690.5,82.0 1698.5,89.0 1713.8,116.0" fill="#171717"/><polygon points="1701.1,114.0 1709.1,121.0 1724.3,148.0" fill="#171717"/><polygon points="1711.7,146.0 1719.6,153.0 1734.9,180.0" fill="#171717"/><polygon points="1722.2,178.0 1730.2,185.0 1745.4,212.0" fill="#171717"/><polygon points="1732.8,210.0 1740.7,217.0 1756.0,244.0" fill="#171717"/><polygon points="1743.3,242.0 1751.3,249.0 1766.5,276.0" fill="#171717"/><polygon points="1753.9,274.0 1761.9,281.0 1777.1,308.0" fill="#171717"/><polygon points="1764.5,306.0 1772.4,313.0 1787.7,340.0" fill="#171717"/><polygon points="1775.0,338.0 1783.0,345.0 1798.2,372.0" fill="#171717"/><polygon points="1785.6,370.0 1793.5,377.0 1808.8,404.0" fill="#171717"/><polygon points="1796.1,402.0 1804.1,409.0 1819.3,436.0" fill="#171717"/><polygon points="1806.7,434.0 1814.7,441.0 1829.9,468.0" fill="#171717"/><line x1="1690.0" y1="41" x2="1804.2" y2="387" stroke="#1e1e1e" stroke-width="3.0"/><line x1="1693.0" y1="41" x2="1807.2" y2="387" stroke="#5c5c5c" stroke-width="1.4"/><polygon points="1676.8,-2.0 1684.8,5.0 1700.0,32.0" fill="#171717"/><polygon points="1687.4,30.0 1695.3,37.0 1710.6,64.0" fill="#171717"/><polygon points="1697.9,62.0 1705.9,69.0 1721.2,96.0" fill="#171717"/><polygon points="1708.5,94.0 1716.5,101.0 1731.7,128.0" fill="#171717"/><polygon points="1719.0,126.0 1727.0,133.0 1742.3,160.0" fill="#171717"/><polygon points="1729.6,158.0 1737.6,165.0 1752.8,192.0" fill="#171717"/><polygon points="1740.2,190.0 1748.1,197.0 1763.4,224.0" fill="#171717"/><polygon points="1750.7,222.0 1758.7,229.0 1774.0,256.0" fill="#171717"/><polygon points="1761.3,254.0 1769.3,261.0 1784.5,288.0" fill="#171717"/><polygon points="1771.8,286.0 1779.8,293.0 1795.1,320.0" fill="#171717"/><polygon points="1782.4,318.0 1790.4,325.0 1805.6,352.0" fill="#171717"/><polygon points="1793.0,350.0 1800.9,357.0 1816.2,384.0" fill="#171717"/><polygon points="1803.5,382.0 1811.5,389.0 1826.8,416.0" fill="#171717"/><polygon points="1814.1,414.0 1822.1,421.0 1837.3,448.0" fill="#171717"/><line x1="1704.0" y1="41" x2="1818.2" y2="387" stroke="#1e1e1e" stroke-width="3.0"/><line x1="1707.0" y1="41" x2="1821.2" y2="387" stroke="#5c5c5c" stroke-width="1.4"/><polygon points="1697.7,19.0 1705.7,26.0 1721.0,53.0" fill="#171717"/><polygon points="1708.3,51.0 1716.3,58.0 1731.5,85.0" fill="#171717"/><polygon points="1718.9,83.0 1726.8,90.0 1742.1,117.0" fill="#171717"/><polygon points="1729.4,115.0 1737.4,122.0 1752.6,149.0" fill="#171717"/><polygon points="1740.0,147.0 1748.0,154.0 1763.2,181.0" fill="#171717"/><polygon points="1750.5,179.0 1758.5,186.0 1773.8,213.0" fill="#171717"/><polygon points="1761.1,211.0 1769.1,218.0 1784.3,245.0" fill="#171717"/><polygon points="1771.7,243.0 1779.6,250.0 1794.9,277.0" fill="#171717"/><polygon points="1782.2,275.0 1790.2,282.0 1805.4,309.0" fill="#171717"/><polygon points="1792.8,307.0 1800.8,314.0 1816.0,341.0" fill="#171717"/><polygon points="1803.3,339.0 1811.3,346.0 1826.6,373.0" fill="#171717"/><polygon points="1813.9,371.0 1821.9,378.0 1837.1,405.0" fill="#171717"/><polygon points="1824.5,403.0 1832.4,410.0 1847.7,437.0" fill="#171717"/><polygon points="1835.0,435.0 1843.0,442.0 1858.2,469.0" fill="#171717"/><line x1="1718.0" y1="41" x2="1832.2" y2="387" stroke="#1e1e1e" stroke-width="3.0"/><line x1="1721.0" y1="41" x2="1835.2" y2="387" stroke="#5c5c5c" stroke-width="1.4"/><polygon points="1705.1,-1.0 1713.1,6.0 1728.4,33.0" fill="#171717"/><polygon points="1715.7,31.0 1723.7,38.0 1738.9,65.0" fill="#171717"/><polygon points="1726.3,63.0 1734.2,70.0 1749.5,97.0" fill="#171717"/><polygon points="1736.8,95.0 1744.8,102.0 1760.0,129.0" fill="#171717"/><polygon points="1747.4,127.0 1755.3,134.0 1770.6,161.0" fill="#171717"/><polygon points="1757.9,159.0 1765.9,166.0 1781.2,193.0" fill="#171717"/><polygon points="1768.5,191.0 1776.5,198.0 1791.7,225.0" fill="#171717"/><polygon points="1779.1,223.0 1787.0,230.0 1802.3,257.0" fill="#171717"/><polygon points="1789.6,255.0 1797.6,262.0 1812.8,289.0" fill="#171717"/><polygon points="1800.2,287.0 1808.2,294.0 1823.4,321.0" fill="#171717"/><polygon points="1810.7,319.0 1818.7,326.0 1834.0,353.0" fill="#171717"/><polygon points="1821.3,351.0 1829.3,358.0 1844.5,385.0" fill="#171717"/><polygon points="1831.9,383.0 1839.8,390.0 1855.1,417.0" fill="#171717"/><polygon points="1842.4,415.0 1850.4,422.0 1865.6,449.0" fill="#171717"/><line x1="1732.0" y1="41" x2="1846.2" y2="387" stroke="#1e1e1e" stroke-width="3.0"/><line x1="1735.0" y1="41" x2="1849.2" y2="387" stroke="#5c5c5c" stroke-width="1.4"/><polygon points="1726.1,20.0 1734.0,27.0 1749.3,54.0" fill="#171717"/><polygon points="1736.6,52.0 1744.6,59.0 1759.8,86.0" fill="#171717"/><polygon points="1747.2,84.0 1755.2,91.0 1770.4,118.0" fill="#171717"/><polygon points="1757.8,116.0 1765.7,123.0 1781.0,150.0" fill="#171717"/><polygon points="1768.3,148.0 1776.3,155.0 1791.5,182.0" fill="#171717"/><polygon points="1778.9,180.0 1786.8,187.0 1802.1,214.0" fill="#171717"/><polygon points="1789.4,212.0 1797.4,219.0 1812.7,246.0" fill="#171717"/><polygon points="1800.0,244.0 1808.0,251.0 1823.2,278.0" fill="#171717"/><polygon points="1810.5,276.0 1818.5,283.0 1833.8,310.0" fill="#171717"/><polygon points="1821.1,308.0 1829.1,315.0 1844.3,342.0" fill="#171717"/><polygon points="1831.7,340.0 1839.6,347.0 1854.9,374.0" fill="#171717"/><polygon points="1842.2,372.0 1850.2,379.0 1865.5,406.0" fill="#171717"/><polygon points="1852.8,404.0 1860.8,411.0 1876.0,438.0" fill="#171717"/><polygon points="1863.3,436.0 1871.3,443.0 1886.6,470.0" fill="#171717"/><line x1="1746.0" y1="41" x2="1860.2" y2="387" stroke="#1e1e1e" stroke-width="3.0"/><line x1="1749.0" y1="41" x2="1863.2" y2="387" stroke="#5c5c5c" stroke-width="1.4"/><polygon points="1733.5,0.0 1741.4,7.0 1756.7,34.0" fill="#171717"/><polygon points="1744.0,32.0 1752.0,39.0 1767.2,66.0" fill="#171717"/><polygon points="1754.6,64.0 1762.6,71.0 1777.8,98.0" fill="#171717"/><polygon points="1765.2,96.0 1773.1,103.0 1788.4,130.0" fill="#171717"/><polygon points="1775.7,128.0 1783.7,135.0 1798.9,162.0" fill="#171717"/><polygon points="1786.3,160.0 1794.2,167.0 1809.5,194.0" fill="#171717"/><polygon points="1796.8,192.0 1804.8,199.0 1820.0,226.0" fill="#171717"/><polygon points="1807.4,224.0 1815.4,231.0 1830.6,258.0" fill="#171717"/><polygon points="1818.0,256.0 1825.9,263.0 1841.2,290.0" fill="#171717"/><polygon points="1828.5,288.0 1836.5,295.0 1851.7,322.0" fill="#171717"/><polygon points="1839.1,320.0 1847.0,327.0 1862.3,354.0" fill="#171717"/><polygon points="1849.6,352.0 1857.6,359.0 1872.8,386.0" fill="#171717"/><polygon points="1860.2,384.0 1868.2,391.0 1883.4,418.0" fill="#171717"/><polygon points="1870.8,416.0 1878.7,423.0 1894.0,450.0" fill="#171717"/><line x1="1760.0" y1="41" x2="1874.2" y2="387" stroke="#1e1e1e" stroke-width="3.0"/><line x1="1763.0" y1="41" x2="1877.2" y2="387" stroke="#5c5c5c" stroke-width="1.4"/><polygon points="1754.4,21.0 1762.4,28.0 1777.6,55.0" fill="#171717"/><polygon points="1765.0,53.0 1772.9,60.0 1788.2,87.0" fill="#171717"/><polygon points="1775.5,85.0 1783.5,92.0 1798.7,119.0" fill="#171717"/><polygon points="1786.1,117.0 1794.0,124.0 1809.3,151.0" fill="#171717"/><polygon points="1796.6,149.0 1804.6,156.0 1819.9,183.0" fill="#171717"/><polygon points="1807.2,181.0 1815.2,188.0 1830.4,215.0" fill="#171717"/><polygon points="1817.8,213.0 1825.7,220.0 1841.0,247.0" fill="#171717"/><polygon points="1828.3,245.0 1836.3,252.0 1851.5,279.0" fill="#171717"/><polygon points="1838.9,277.0 1846.8,284.0 1862.1,311.0" fill="#171717"/><polygon points="1849.4,309.0 1857.4,316.0 1872.7,343.0" fill="#171717"/><polygon points="1860.0,341.0 1868.0,348.0 1883.2,375.0" fill="#171717"/><polygon points="1870.6,373.0 1878.5,380.0 1893.8,407.0" fill="#171717"/><polygon points="1881.1,405.0 1889.1,412.0 1904.3,439.0" fill="#171717"/><polygon points="1891.7,437.0 1899.7,444.0 1914.9,471.0" fill="#171717"/><line x1="1774.0" y1="41" x2="1888.2" y2="387" stroke="#1e1e1e" stroke-width="3.0"/><line x1="1777.0" y1="41" x2="1891.2" y2="387" stroke="#5c5c5c" stroke-width="1.4"/><polygon points="1761.8,1.0 1769.8,8.0 1785.0,35.0" fill="#171717"/><polygon points="1772.4,33.0 1780.3,40.0 1795.6,67.0" fill="#171717"/><polygon points="1782.9,65.0 1790.9,72.0 1806.1,99.0" fill="#171717"/><polygon points="1793.5,97.0 1801.5,104.0 1816.7,131.0" fill="#171717"/><polygon points="1804.0,129.0 1812.0,136.0 1827.3,163.0" fill="#171717"/><polygon points="1814.6,161.0 1822.6,168.0 1837.8,195.0" fill="#171717"/><polygon points="1825.2,193.0 1833.1,200.0 1848.4,227.0" fill="#171717"/><polygon points="1835.7,225.0 1843.7,232.0 1858.9,259.0" fill="#171717"/><polygon points="1846.3,257.0 1854.2,264.0 1869.5,291.0" fill="#171717"/><polygon points="1856.8,289.0 1864.8,296.0 1880.1,323.0" fill="#171717"/><polygon points="1867.4,321.0 1875.4,328.0 1890.6,355.0" fill="#171717"/><polygon points="1878.0,353.0 1885.9,360.0 1901.2,387.0" fill="#171717"/><polygon points="1888.5,385.0 1896.5,392.0 1911.7,419.0" fill="#171717"/><polygon points="1899.1,417.0 1907.0,424.0 1922.3,451.0" fill="#171717"/><line x1="1788.0" y1="41" x2="1902.2" y2="387" stroke="#1e1e1e" stroke-width="3.0"/><line x1="1791.0" y1="41" x2="1905.2" y2="387" stroke="#5c5c5c" stroke-width="1.4"/><polygon points="1782.7,22.0 1790.7,29.0 1806.0,56.0" fill="#171717"/><polygon points="1793.3,54.0 1801.3,61.0 1816.5,88.0" fill="#171717"/><polygon points="1803.8,86.0 1811.8,93.0 1827.1,120.0" fill="#171717"/><polygon points="1814.4,118.0 1822.4,125.0 1837.6,152.0" fill="#171717"/><polygon points="1825.0,150.0 1832.9,157.0 1848.2,184.0" fill="#171717"/><polygon points="1835.5,182.0 1843.5,189.0 1858.8,216.0" fill="#171717"/><polygon points="1846.1,214.0 1854.1,221.0 1869.3,248.0" fill="#171717"/><polygon points="1856.7,246.0 1864.6,253.0 1879.9,280.0" fill="#171717"/><polygon points="1867.2,278.0 1875.2,285.0 1890.4,312.0" fill="#171717"/><polygon points="1877.8,310.0 1885.7,317.0 1901.0,344.0" fill="#171717"/><polygon points="1888.3,342.0 1896.3,349.0 1911.5,376.0" fill="#171717"/><polygon points="1898.9,374.0 1906.9,381.0 1922.1,408.0" fill="#171717"/><polygon points="1909.5,406.0 1917.4,413.0 1932.7,440.0" fill="#171717"/><polygon points="1920.0,438.0 1928.0,445.0 1943.2,472.0" fill="#171717"/><line x1="1802.0" y1="41" x2="1916.2" y2="387" stroke="#1e1e1e" stroke-width="3.0"/><line x1="1805.0" y1="41" x2="1919.2" y2="387" stroke="#5c5c5c" stroke-width="1.4"/><polygon points="1790.1,2.0 1798.1,9.0 1813.3,36.0" fill="#171717"/><polygon points="1800.7,34.0 1808.7,41.0 1823.9,68.0" fill="#171717"/><polygon points="1811.2,66.0 1819.2,73.0 1834.5,100.0" fill="#171717"/><polygon points="1821.8,98.0 1829.8,105.0 1845.0,132.0" fill="#171717"/><polygon points="1832.4,130.0 1840.3,137.0 1855.6,164.0" fill="#171717"/><polygon points="1842.9,162.0 1850.9,169.0 1866.2,196.0" fill="#171717"/><polygon points="1853.5,194.0 1861.5,201.0 1876.7,228.0" fill="#171717"/><polygon points="1864.0,226.0 1872.0,233.0 1887.3,260.0" fill="#171717"/><polygon points="1874.6,258.0 1882.6,265.0 1897.8,292.0" fill="#171717"/><polygon points="1885.2,290.0 1893.1,297.0 1908.4,324.0" fill="#171717"/><polygon points="1895.7,322.0 1903.7,329.0 1919.0,356.0" fill="#171717"/><polygon points="1906.3,354.0 1914.3,361.0 1929.5,388.0" fill="#171717"/><polygon points="1916.8,386.0 1924.8,393.0 1940.1,420.0" fill="#171717"/><polygon points="1927.4,418.0 1935.4,425.0 1950.6,452.0" fill="#171717"/><line x1="1816.0" y1="41" x2="1930.2" y2="387" stroke="#1e1e1e" stroke-width="3.0"/><line x1="1819.0" y1="41" x2="1933.2" y2="387" stroke="#5c5c5c" stroke-width="1.4"/><polygon points="1808.1,14.0 1816.1,21.0 1831.3,48.0" fill="#171717"/><polygon points="1818.7,46.0 1826.6,53.0 1841.9,80.0" fill="#171717"/><polygon points="1829.2,78.0 1837.2,85.0 1852.4,112.0" fill="#171717"/><polygon points="1839.8,110.0 1847.7,117.0 1863.0,144.0" fill="#171717"/><polygon points="1850.3,142.0 1858.3,149.0 1873.5,176.0" fill="#171717"/><polygon points="1860.9,174.0 1868.9,181.0 1884.1,208.0" fill="#171717"/><polygon points="1871.5,206.0 1879.4,213.0 1894.7,240.0" fill="#171717"/><polygon points="1882.0,238.0 1890.0,245.0 1905.2,272.0" fill="#171717"/><polygon points="1892.6,270.0 1900.5,277.0 1915.8,304.0" fill="#171717"/><polygon points="1903.1,302.0 1911.1,309.0 1926.3,336.0" fill="#171717"/><polygon points="1913.7,334.0 1921.7,341.0 1936.9,368.0" fill="#171717"/><polygon points="1924.2,366.0 1932.2,373.0 1947.5,400.0" fill="#171717"/><polygon points="1934.8,398.0 1942.8,405.0 1958.0,432.0" fill="#171717"/><polygon points="1945.4,430.0 1953.3,437.0 1968.6,464.0" fill="#171717"/><line x1="1830.0" y1="41" x2="1944.2" y2="387" stroke="#1e1e1e" stroke-width="3.0"/><line x1="1833.0" y1="41" x2="1947.2" y2="387" stroke="#5c5c5c" stroke-width="1.4"/><polygon points="1818.5,3.0 1826.4,10.0 1841.7,37.0" fill="#171717"/><polygon points="1829.0,35.0 1837.0,42.0 1852.2,69.0" fill="#171717"/><polygon points="1839.6,67.0 1847.5,74.0 1862.8,101.0" fill="#171717"/><polygon points="1850.1,99.0 1858.1,106.0 1873.4,133.0" fill="#171717"/><polygon points="1860.7,131.0 1868.7,138.0 1883.9,165.0" fill="#171717"/><polygon points="1871.3,163.0 1879.2,170.0 1894.5,197.0" fill="#171717"/><polygon points="1881.8,195.0 1889.8,202.0 1905.0,229.0" fill="#171717"/><polygon points="1892.4,227.0 1900.3,234.0 1915.6,261.0" fill="#171717"/><polygon points="1902.9,259.0 1910.9,266.0 1926.2,293.0" fill="#171717"/><polygon points="1913.5,291.0 1921.5,298.0 1936.7,325.0" fill="#171717"/><polygon points="1924.1,323.0 1932.0,330.0 1947.3,357.0" fill="#171717"/><polygon points="1934.6,355.0 1942.6,362.0 1957.8,389.0" fill="#171717"/><polygon points="1945.2,387.0 1953.2,394.0 1968.4,421.0" fill="#171717"/><polygon points="1955.7,419.0 1963.7,426.0 1979.0,453.0" fill="#171717"/><line x1="1844.0" y1="41" x2="1958.2" y2="387" stroke="#1e1e1e" stroke-width="3.0"/><line x1="1847.0" y1="41" x2="1961.2" y2="387" stroke="#5c5c5c" stroke-width="1.4"/><polygon points="1836.4,15.0 1844.4,22.0 1859.6,49.0" fill="#171717"/><polygon points="1847.0,47.0 1855.0,54.0 1870.2,81.0" fill="#171717"/><polygon points="1857.5,79.0 1865.5,86.0 1880.8,113.0" fill="#171717"/><polygon points="1868.1,111.0 1876.1,118.0 1891.3,145.0" fill="#171717"/><polygon points="1878.7,143.0 1886.6,150.0 1901.9,177.0" fill="#171717"/><polygon points="1889.2,175.0 1897.2,182.0 1912.4,209.0" fill="#171717"/><polygon points="1899.8,207.0 1907.8,214.0 1923.0,241.0" fill="#171717"/><polygon points="1910.3,239.0 1918.3,246.0 1933.6,273.0" fill="#171717"/><polygon points="1920.9,271.0 1928.9,278.0 1944.1,305.0" fill="#171717"/><polygon points="1931.5,303.0 1939.4,310.0 1954.7,337.0" fill="#171717"/><polygon points="1942.0,335.0 1950.0,342.0 1965.2,369.0" fill="#171717"/><polygon points="1952.6,367.0 1960.5,374.0 1975.8,401.0" fill="#171717"/><polygon points="1963.1,399.0 1971.1,406.0 1986.4,433.0" fill="#171717"/><polygon points="1973.7,431.0 1981.7,438.0 1996.9,465.0" fill="#171717"/><line x1="1858.0" y1="41" x2="1972.2" y2="387" stroke="#1e1e1e" stroke-width="3.0"/><line x1="1861.0" y1="41" x2="1975.2" y2="387" stroke="#5c5c5c" stroke-width="1.4"/><polygon points="1846.8,4.0 1854.8,11.0 1870.0,38.0" fill="#171717"/><polygon points="1857.3,36.0 1865.3,43.0 1880.6,70.0" fill="#171717"/><polygon points="1867.9,68.0 1875.9,75.0 1891.1,102.0" fill="#171717"/><polygon points="1878.5,100.0 1886.4,107.0 1901.7,134.0" fill="#171717"/><polygon points="1889.0,132.0 1897.0,139.0 1912.2,166.0" fill="#171717"/><polygon points="1899.6,164.0 1907.6,171.0 1922.8,198.0" fill="#171717"/><polygon points="1910.2,196.0 1918.1,203.0 1933.4,230.0" fill="#171717"/><polygon points="1920.7,228.0 1928.7,235.0 1943.9,262.0" fill="#171717"/><polygon points="1931.3,260.0 1939.2,267.0 1954.5,294.0" fill="#171717"/><polygon points="1941.8,292.0 1949.8,299.0 1965.0,326.0" fill="#171717"/><polygon points="1952.4,324.0 1960.4,331.0 1975.6,358.0" fill="#171717"/><polygon points="1963.0,356.0 1970.9,363.0 1986.2,390.0" fill="#171717"/><polygon points="1973.5,388.0 1981.5,395.0 1996.7,422.0" fill="#171717"/><polygon points="1984.1,420.0 1992.0,427.0 2007.3,454.0" fill="#171717"/><line x1="1872.0" y1="41" x2="1986.2" y2="387" stroke="#1e1e1e" stroke-width="3.0"/><line x1="1875.0" y1="41" x2="1989.2" y2="387" stroke="#5c5c5c" stroke-width="1.4"/><polygon points="1864.8,16.0 1872.7,23.0 1888.0,50.0" fill="#171717"/><polygon points="1875.3,48.0 1883.3,55.0 1898.5,82.0" fill="#171717"/><polygon points="1885.9,80.0 1893.8,87.0 1909.1,114.0" fill="#171717"/><polygon points="1896.4,112.0 1904.4,119.0 1919.7,146.0" fill="#171717"/><polygon points="1907.0,144.0 1915.0,151.0 1930.2,178.0" fill="#171717"/><polygon points="1917.5,176.0 1925.5,183.0 1940.8,210.0" fill="#171717"/><polygon points="1928.1,208.0 1936.1,215.0 1951.3,242.0" fill="#171717"/><polygon points="1938.7,240.0 1946.6,247.0 1961.9,274.0" fill="#171717"/><polygon points="1949.2,272.0 1957.2,279.0 1972.5,306.0" fill="#171717"/><polygon points="1959.8,304.0 1967.8,311.0 1983.0,338.0" fill="#171717"/><polygon points="1970.3,336.0 1978.3,343.0 1993.6,370.0" fill="#171717"/><polygon points="1980.9,368.0 1988.9,375.0 2004.1,402.0" fill="#171717"/><polygon points="1991.5,400.0 1999.4,407.0 2014.7,434.0" fill="#171717"/><polygon points="2002.0,432.0 2010.0,439.0 2025.2,466.0" fill="#171717"/><polygon points="1711.0,41.0 1723.0,41.0 1802.0,387.0 1790.0,387.0" fill="#3e3e3e"/></g>
</svg>
</div>
<div id="title">
<div class="tw" style="left:371.6px;top:205px;letter-spacing:7.10px;">THE</div>
<div class="tw" style="left:682.9px;top:205px;letter-spacing:2.07px;">KEY</div>
<div class="tw" style="left:985.6px;top:205px;letter-spacing:2.34px;">ISSUES</div>
</div>
<div id="logo"><span class="lg lg1" style="left:1620.8px;top:0.0px;letter-spacing:-0.82px;">Status</span><span class="lg lg2" style="left:1790.8px;top:0.0px;letter-spacing:1.17px;">Ne</span><span class="lg lg3" style="left:1862.2px;top:-0.4px;letter-spacing:-0.64px;">o</span></div><i class="dot"></i>
<svg id="cards" width="1920" height="1080" viewBox="0 0 1920 1080" style="position:absolute;left:0;top:0;">
<rect x="335.2" y="502" width="371.2" height="425.8" fill="#efefef"/>
<rect x="900.1" y="502" width="371.5" height="425.8" fill="#efefef"/>
<rect x="1465" y="502" width="371.5" height="425.8" fill="#efefef"/>
<polygon points="747.2,649.3 804.1,649.3 804.1,621.8 860.3,677.9 804.1,734.6 804.1,706 747.2,706" fill="#969696"/>
<polygon points="1312.5,649.3 1369.4,649.3 1369.4,621.8 1425.6,677.9 1369.4,734.6 1369.4,706 1312.5,706" fill="#969696"/>
</svg>
<div class="shadow" style="left:335px;"></div>
<div class="shadow" style="left:900px;"></div>
<div class="shadow" style="left:1465px;"></div>

<div id="bodytext">
<div class="bl" style="left:441.9px;top:543px;letter-spacing:1.18px;">The client's</div>
<div class="bl" style="left:438.0px;top:576px;letter-spacing:0.91px;">extensive IT</div>
<div class="bl" style="left:423.3px;top:609px;letter-spacing:1.53px;">infrastructure</div>
<div class="bl" style="left:396.7px;top:642px;letter-spacing:1.59px;">spanned multiple</div>
<div class="bl" style="left:403.8px;top:675px;letter-spacing:1.16px;">layers, making it</div>
<div class="bl" style="left:418.9px;top:708px;letter-spacing:1.76px;">challenging to</div>
<div class="bl" style="left:434.0px;top:741px;letter-spacing:1.70px;">monitor and</div>
<div class="bl" style="left:398.6px;top:774px;letter-spacing:1.70px;">maintain optimal</div>
<div class="bl" style="left:382.1px;top:807px;letter-spacing:1.36px;">performance across</div>
<div class="bl" style="left:452.3px;top:840px;letter-spacing:1.45px;">the entire</div>
<div class="bl" style="left:443.8px;top:873px;letter-spacing:1.15px;">ecosystem.</div>
<div class="bl" style="left:955.7px;top:543px;letter-spacing:1.27px;">A lack of real-time</div>
<div class="bl" style="left:965.0px;top:576px;letter-spacing:1.35px;">visibility into the</div>
<div class="bl" style="left:975.8px;top:609px;letter-spacing:1.42px;">performance of</div>
<div class="bl" style="left:975.4px;top:642px;letter-spacing:1.19px;">critical systems</div>
<div class="bl" style="left:993.3px;top:675px;letter-spacing:1.60px;">hindered the</div>
<div class="bl" style="left:950.8px;top:708px;letter-spacing:1.39px;">institution's ability</div>
<div class="bl" style="left:988.4px;top:741px;letter-spacing:1.21px;">to proactively</div>
<div class="bl" style="left:949.3px;top:774px;letter-spacing:1.37px;">identify and rectify</div>
<div class="bl" style="left:957.1px;top:807px;letter-spacing:1.18px;">issues, potentially</div>
<div class="bl" style="left:950.1px;top:840px;letter-spacing:1.42px;">affecting customer</div>
<div class="bl" style="left:987.0px;top:873px;letter-spacing:0.98px;">service levels.</div>
<div class="bl" style="left:1504.1px;top:543px;letter-spacing:1.55px;">Stringent regulatory</div>
<div class="bl" style="left:1553.8px;top:576px;letter-spacing:1.70px;">requirements</div>
<div class="bl" style="left:1511.3px;top:609px;letter-spacing:1.44px;">demanded a robust</div>
<div class="bl" style="left:1559.1px;top:642px;letter-spacing:1.21px;">observability</div>
<div class="bl" style="left:1521.2px;top:675px;letter-spacing:1.39px;">solution to ensure</div>
<div class="bl" style="left:1554.0px;top:708px;letter-spacing:1.18px;">data security,</div>
<div class="bl" style="left:1553.8px;top:741px;letter-spacing:1.41px;">integrity, and</div>
<div class="bl" style="left:1522.5px;top:774px;letter-spacing:1.40px;">compliance, while</div>
<div class="bl" style="left:1537.1px;top:807px;letter-spacing:1.38px;">also providing a</div>
<div class="bl" style="left:1525.6px;top:840px;letter-spacing:1.41px;">transparent audit</div>
<div class="bl" style="left:1618.6px;top:873px;letter-spacing:1.27px;">trail.</div>
</div>
<div id="labels">
<div class="lb" style="left:436.7px;top:954px;letter-spacing:0.21px;">Complex IT</div>
<div class="lb" style="left:444.0px;top:993px;letter-spacing:0.26px;">Landscape</div>
<div class="lb" style="left:916.2px;top:954px;letter-spacing:0.69px;">Real-time Performance</div>
<div class="lb" style="left:1004.9px;top:993px;letter-spacing:1.41px;">Monitoring</div>
<div class="lb" style="left:1564.9px;top:954px;letter-spacing:0.61px;">Regulatory</div>
<div class="lb" style="left:1561.5px;top:993px;letter-spacing:0.78px;">Compliance</div>
</div>
</body>
</html>
